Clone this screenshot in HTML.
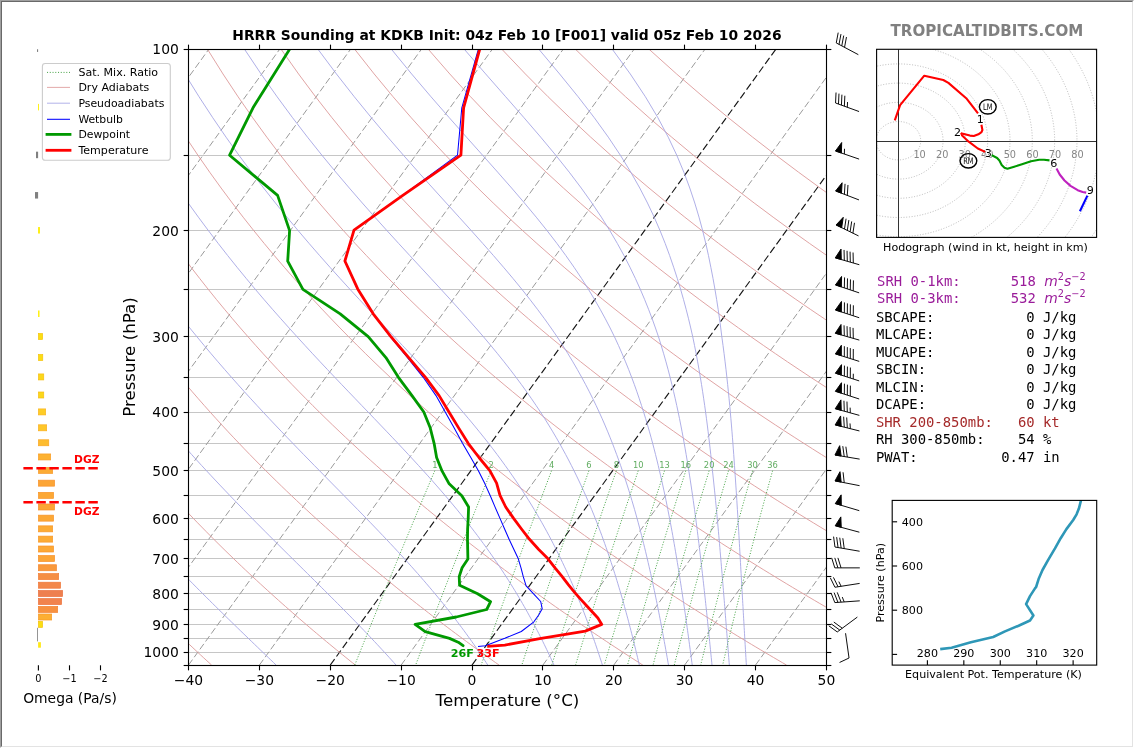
<!DOCTYPE html>
<html><head><meta charset="utf-8"><title>HRRR Sounding at KDKB</title>
<style>
html,body{margin:0;padding:0;background:#fff;}
body{width:1134px;height:748px;overflow:hidden;position:relative;}
svg{position:absolute;left:0;top:0;display:block;will-change:transform;font-family:"DejaVu Sans","Liberation Sans",sans-serif;}
.mono{font-family:"DejaVu Sans Mono","Liberation Mono",monospace;}
#frame{position:absolute;left:0;top:0;width:1134px;height:748px;box-sizing:border-box;border-top:1px solid #a0a0a0;border-left:1px solid #a0a0a0;border-right:1px solid #fff;border-bottom:1px solid #fff;}
#frame2{position:absolute;left:1px;top:1px;width:1132px;height:746px;box-sizing:border-box;border-top:1px solid #696969;border-left:1px solid #696969;border-right:1px solid #e3e3e3;border-bottom:1px solid #e3e3e3;}
</style></head><body>
<svg width="1134" height="748" viewBox="0 0 1134 748">
<clipPath id="cm"><rect x="188.50" y="49.00" width="637.90" height="616.10"/></clipPath>
<g clip-path="url(#cm)">
<line x1="188.50" y1="49.50" x2="826.40" y2="49.50" stroke="#c6c6c6" stroke-width="1.0" />
<line x1="188.50" y1="155.50" x2="826.40" y2="155.50" stroke="#c6c6c6" stroke-width="1.0" />
<line x1="188.50" y1="230.50" x2="826.40" y2="230.50" stroke="#c6c6c6" stroke-width="1.0" />
<line x1="188.50" y1="289.50" x2="826.40" y2="289.50" stroke="#c6c6c6" stroke-width="1.0" />
<line x1="188.50" y1="336.50" x2="826.40" y2="336.50" stroke="#c6c6c6" stroke-width="1.0" />
<line x1="188.50" y1="377.50" x2="826.40" y2="377.50" stroke="#c6c6c6" stroke-width="1.0" />
<line x1="188.50" y1="412.50" x2="826.40" y2="412.50" stroke="#c6c6c6" stroke-width="1.0" />
<line x1="188.50" y1="443.50" x2="826.40" y2="443.50" stroke="#c6c6c6" stroke-width="1.0" />
<line x1="188.50" y1="470.50" x2="826.40" y2="470.50" stroke="#c6c6c6" stroke-width="1.0" />
<line x1="188.50" y1="495.50" x2="826.40" y2="495.50" stroke="#c6c6c6" stroke-width="1.0" />
<line x1="188.50" y1="518.50" x2="826.40" y2="518.50" stroke="#c6c6c6" stroke-width="1.0" />
<line x1="188.50" y1="539.50" x2="826.40" y2="539.50" stroke="#c6c6c6" stroke-width="1.0" />
<line x1="188.50" y1="558.50" x2="826.40" y2="558.50" stroke="#c6c6c6" stroke-width="1.0" />
<line x1="188.50" y1="576.50" x2="826.40" y2="576.50" stroke="#c6c6c6" stroke-width="1.0" />
<line x1="188.50" y1="593.50" x2="826.40" y2="593.50" stroke="#c6c6c6" stroke-width="1.0" />
<line x1="188.50" y1="609.50" x2="826.40" y2="609.50" stroke="#c6c6c6" stroke-width="1.0" />
<line x1="188.50" y1="624.50" x2="826.40" y2="624.50" stroke="#c6c6c6" stroke-width="1.0" />
<line x1="188.50" y1="638.50" x2="826.40" y2="638.50" stroke="#c6c6c6" stroke-width="1.0" />
<line x1="188.50" y1="652.50" x2="826.40" y2="652.50" stroke="#c6c6c6" stroke-width="1.0" />
<line x1="-591.16" y1="665.10" x2="-145.41" y2="49.00" stroke="#9a9a9a" stroke-width="1.0" stroke-dasharray="6.8 2.9"/>
<line x1="-520.28" y1="665.10" x2="-74.53" y2="49.00" stroke="#9a9a9a" stroke-width="1.0" stroke-dasharray="6.8 2.9"/>
<line x1="-449.40" y1="665.10" x2="-3.65" y2="49.00" stroke="#9a9a9a" stroke-width="1.0" stroke-dasharray="6.8 2.9"/>
<line x1="-378.52" y1="665.10" x2="67.23" y2="49.00" stroke="#9a9a9a" stroke-width="1.0" stroke-dasharray="6.8 2.9"/>
<line x1="-307.64" y1="665.10" x2="138.10" y2="49.00" stroke="#9a9a9a" stroke-width="1.0" stroke-dasharray="6.8 2.9"/>
<line x1="-236.77" y1="665.10" x2="208.98" y2="49.00" stroke="#9a9a9a" stroke-width="1.0" stroke-dasharray="6.8 2.9"/>
<line x1="-165.89" y1="665.10" x2="279.86" y2="49.00" stroke="#9a9a9a" stroke-width="1.0" stroke-dasharray="6.8 2.9"/>
<line x1="-95.01" y1="665.10" x2="350.74" y2="49.00" stroke="#9a9a9a" stroke-width="1.0" stroke-dasharray="6.8 2.9"/>
<line x1="-24.13" y1="665.10" x2="421.62" y2="49.00" stroke="#9a9a9a" stroke-width="1.0" stroke-dasharray="6.8 2.9"/>
<line x1="46.74" y1="665.10" x2="492.49" y2="49.00" stroke="#9a9a9a" stroke-width="1.0" stroke-dasharray="6.8 2.9"/>
<line x1="117.62" y1="665.10" x2="563.37" y2="49.00" stroke="#9a9a9a" stroke-width="1.0" stroke-dasharray="6.8 2.9"/>
<line x1="188.50" y1="665.10" x2="634.25" y2="49.00" stroke="#9a9a9a" stroke-width="1.0" stroke-dasharray="6.8 2.9"/>
<line x1="259.38" y1="665.10" x2="705.13" y2="49.00" stroke="#9a9a9a" stroke-width="1.0" stroke-dasharray="6.8 2.9"/>
<line x1="330.26" y1="665.10" x2="776.00" y2="49.00" stroke="#161616" stroke-width="1.15" stroke-dasharray="7.4 3.2"/>
<line x1="401.13" y1="665.10" x2="846.88" y2="49.00" stroke="#9a9a9a" stroke-width="1.0" stroke-dasharray="6.8 2.9"/>
<line x1="472.01" y1="665.10" x2="917.76" y2="49.00" stroke="#161616" stroke-width="1.15" stroke-dasharray="7.4 3.2"/>
<line x1="542.89" y1="665.10" x2="988.64" y2="49.00" stroke="#9a9a9a" stroke-width="1.0" stroke-dasharray="6.8 2.9"/>
<line x1="613.77" y1="665.10" x2="1059.52" y2="49.00" stroke="#9a9a9a" stroke-width="1.0" stroke-dasharray="6.8 2.9"/>
<line x1="684.64" y1="665.10" x2="1130.39" y2="49.00" stroke="#9a9a9a" stroke-width="1.0" stroke-dasharray="6.8 2.9"/>
<line x1="755.52" y1="665.10" x2="1201.27" y2="49.00" stroke="#9a9a9a" stroke-width="1.0" stroke-dasharray="6.8 2.9"/>
<line x1="826.40" y1="665.10" x2="1272.15" y2="49.00" stroke="#9a9a9a" stroke-width="1.0" stroke-dasharray="6.8 2.9"/>
<polyline points="-160.55,49.00 -155.01,73.97 -149.40,96.77 -143.74,117.74 -138.07,137.16 -132.42,155.24 -126.79,172.15 -121.21,188.03 -115.67,203.01 -110.19,217.18 -104.76,230.62 -99.38,243.40 -94.07,255.59 -88.82,267.24 -83.63,278.39 -78.50,289.08 -73.42,299.36 -68.41,309.25 -63.46,318.78 -58.56,327.97 -53.71,336.85 -48.93,345.45 -44.19,353.77 -39.51,361.83 -34.88,369.65 -30.30,377.25 -25.77,384.63 -21.29,391.81 -16.85,398.79 -12.46,405.60 -8.11,412.23 -3.81,418.70 0.45,425.02 4.67,431.18 8.85,437.21 12.98,443.09 17.08,448.85 21.14,454.49 25.17,460.00 29.16,465.41 33.11,470.70 37.03,475.89 40.91,480.98 44.76,485.97 48.58,490.86 52.37,495.67 56.12,500.39 59.85,505.03 63.54,509.59 67.21,514.07 70.84,518.47 74.45,522.80 78.03,527.06 81.59,531.26 85.11,535.38 88.61,539.44 92.09,543.44 95.54,547.38 98.96,551.27 102.37,555.09 105.74,558.86 109.10,562.58 112.43,566.24 115.74,569.86 119.02,573.42 122.29,576.94 125.53,580.41 128.75,583.83 131.96,587.22 135.14,590.55 138.30,593.85 141.44,597.10 144.56,600.32 147.66,603.49 150.75,606.63 153.81,609.73 156.86,612.80 159.89,615.83 162.90,618.82 165.90,621.78 168.87,624.71 171.83,627.61 174.78,630.47 177.70,633.30 180.61,636.10 183.51,638.88 186.39,641.62 189.25,644.34 192.10,647.02 194.93,649.68 197.75,652.32 200.55,654.92 203.34,657.50 206.12,660.06 208.88,662.59 211.62,665.10" fill="none" stroke="#dc9a9a" stroke-width="0.9" />
<polyline points="-86.97,49.00 -79.41,73.97 -71.90,96.77 -64.45,117.74 -57.10,137.16 -49.84,155.24 -42.68,172.15 -35.63,188.03 -28.69,203.01 -21.85,217.18 -15.12,230.62 -8.50,243.40 -1.97,255.59 4.45,267.24 10.78,278.39 17.02,289.08 23.16,299.36 29.22,309.25 35.19,318.78 41.08,327.97 46.89,336.85 52.62,345.45 58.28,353.77 63.86,361.83 69.38,369.65 74.82,377.25 80.20,384.63 85.51,391.81 90.76,398.79 95.95,405.60 101.08,412.23 106.16,418.70 111.17,425.02 116.14,431.18 121.05,437.21 125.90,443.09 130.71,448.85 135.47,454.49 140.18,460.00 144.85,465.41 149.47,470.70 154.05,475.89 158.58,480.98 163.07,485.97 167.52,490.86 171.93,495.67 176.30,500.39 180.63,505.03 184.93,509.59 189.18,514.07 193.41,518.47 197.59,522.80 201.74,527.06 205.86,531.26 209.95,535.38 214.00,539.44 218.02,543.44 222.01,547.38 225.98,551.27 229.91,555.09 233.81,558.86 237.68,562.58 241.52,566.24 245.34,569.86 249.13,573.42 252.89,576.94 256.63,580.41 260.34,583.83 264.03,587.22 267.69,590.55 271.33,593.85 274.94,597.10 278.53,600.32 282.09,603.49 285.64,606.63 289.16,609.73 292.66,612.80 296.13,615.83 299.59,618.82 303.02,621.78 306.44,624.71 309.83,627.61 313.20,630.47 316.56,633.30 319.89,636.10 323.21,638.88 326.50,641.62 329.78,644.34 333.04,647.02 336.28,649.68 339.50,652.32 342.71,654.92 345.90,657.50 349.07,660.06 352.22,662.59 355.36,665.10" fill="none" stroke="#dc9a9a" stroke-width="0.9" />
<polyline points="-13.39,49.00 -3.81,73.97 5.60,96.77 14.83,117.74 23.88,137.16 32.75,155.24 41.44,172.15 49.95,188.03 58.30,203.01 66.48,217.18 74.51,230.62 82.39,243.40 90.13,255.59 97.73,267.24 105.19,278.39 112.53,289.08 119.75,299.36 126.85,309.25 133.84,318.78 140.72,327.97 147.50,336.85 154.17,345.45 160.75,353.77 167.24,361.83 173.63,369.65 179.94,377.25 186.17,384.63 192.31,391.81 198.37,398.79 204.36,405.60 210.28,412.23 216.12,418.70 221.90,425.02 227.60,431.18 233.25,437.21 238.83,443.09 244.34,448.85 249.80,454.49 255.20,460.00 260.54,465.41 265.83,470.70 271.06,475.89 276.25,480.98 281.38,485.97 286.46,490.86 291.49,495.67 296.48,500.39 301.42,505.03 306.31,509.59 311.16,514.07 315.97,518.47 320.73,522.80 325.46,527.06 330.14,531.26 334.78,535.38 339.39,539.44 343.96,543.44 348.49,547.38 352.99,551.27 357.45,555.09 361.87,558.86 366.26,562.58 370.62,566.24 374.94,569.86 379.24,573.42 383.50,576.94 387.73,580.41 391.93,583.83 396.10,587.22 400.24,590.55 404.35,593.85 408.44,597.10 412.49,600.32 416.52,603.49 420.53,606.63 424.50,609.73 428.45,612.80 432.38,615.83 436.28,618.82 440.15,621.78 444.00,624.71 447.83,627.61 451.63,630.47 455.41,633.30 459.17,636.10 462.91,638.88 466.62,641.62 470.31,644.34 473.98,647.02 477.63,649.68 481.26,652.32 484.87,654.92 488.46,657.50 492.02,660.06 495.57,662.59 499.10,665.10" fill="none" stroke="#dc9a9a" stroke-width="0.9" />
<polyline points="60.18,49.00 71.79,73.97 83.10,96.77 94.12,117.74 104.86,137.16 115.33,155.24 125.55,172.15 135.53,188.03 145.28,203.01 154.82,217.18 164.15,230.62 173.28,243.40 182.23,255.59 191.00,267.24 199.61,278.39 208.05,289.08 216.34,299.36 224.49,309.25 232.49,318.78 240.36,327.97 248.10,336.85 255.72,345.45 263.22,353.77 270.61,361.83 277.89,369.65 285.06,377.25 292.13,384.63 299.11,391.81 305.99,398.79 312.78,405.60 319.47,412.23 326.09,418.70 332.62,425.02 339.07,431.18 345.45,437.21 351.75,443.09 357.97,448.85 364.13,454.49 370.22,460.00 376.24,465.41 382.19,470.70 388.08,475.89 393.91,480.98 399.69,485.97 405.40,490.86 411.05,495.67 416.65,500.39 422.20,505.03 427.70,509.59 433.14,514.07 438.53,518.47 443.87,522.80 449.17,527.06 454.42,531.26 459.62,535.38 464.78,539.44 469.89,543.44 474.97,547.38 480.00,551.27 484.98,555.09 489.93,558.86 494.84,562.58 499.71,566.24 504.55,569.86 509.34,573.42 514.10,576.94 518.83,580.41 523.52,583.83 528.17,587.22 532.79,590.55 537.38,593.85 541.94,597.10 546.46,600.32 550.95,603.49 555.41,606.63 559.85,609.73 564.25,612.80 568.62,615.83 572.96,618.82 577.28,621.78 581.57,624.71 585.83,627.61 590.06,630.47 594.27,633.30 598.45,636.10 602.61,638.88 606.74,641.62 610.84,644.34 614.92,647.02 618.98,649.68 623.02,652.32 627.03,654.92 631.01,657.50 634.98,660.06 638.92,662.59 642.84,665.10" fill="none" stroke="#dc9a9a" stroke-width="0.9" />
<polyline points="133.76,49.00 147.39,73.97 160.60,96.77 173.40,117.74 185.83,137.16 197.91,155.24 209.67,172.15 221.11,188.03 232.27,203.01 243.15,217.18 253.78,230.62 264.17,243.40 274.33,255.59 284.28,267.24 294.02,278.39 303.56,289.08 312.93,299.36 322.12,309.25 331.14,318.78 340.00,327.97 348.71,336.85 357.27,345.45 365.70,353.77 373.99,361.83 382.15,369.65 390.18,377.25 398.10,384.63 405.91,391.81 413.60,398.79 421.19,405.60 428.67,412.23 436.06,418.70 443.35,425.02 450.54,431.18 457.65,437.21 464.67,443.09 471.60,448.85 478.46,454.49 485.23,460.00 491.93,465.41 498.55,470.70 505.10,475.89 511.58,480.98 517.99,485.97 524.34,490.86 530.62,495.67 536.83,500.39 542.99,505.03 549.08,509.59 555.12,514.07 561.09,518.47 567.01,522.80 572.88,527.06 578.70,531.26 584.46,535.38 590.17,539.44 595.83,543.44 601.44,547.38 607.01,551.27 612.52,555.09 618.00,558.86 623.42,562.58 628.81,566.24 634.15,569.86 639.45,573.42 644.71,576.94 649.92,580.41 655.10,583.83 660.24,587.22 665.34,590.55 670.41,593.85 675.43,597.10 680.43,600.32 685.38,603.49 690.30,606.63 695.19,609.73 700.04,612.80 704.86,615.83 709.65,618.82 714.41,621.78 719.13,624.71 723.83,627.61 728.49,630.47 733.13,633.30 737.73,636.10 742.31,638.88 746.85,641.62 751.37,644.34 755.87,647.02 760.33,649.68 764.77,652.32 769.18,654.92 773.57,657.50 777.93,660.06 782.27,662.59 786.58,665.10" fill="none" stroke="#dc9a9a" stroke-width="0.9" />
<polyline points="207.34,49.00 222.99,73.97 238.09,96.77 252.69,117.74 266.81,137.16 280.50,155.24 293.78,172.15 306.69,188.03 319.25,203.01 331.48,217.18 343.41,230.62 355.06,243.40 366.43,255.59 377.55,267.24 388.43,278.39 399.08,289.08 409.52,299.36 419.75,309.25 429.79,318.78 439.64,327.97 449.32,336.85 458.82,345.45 468.17,353.77 477.36,361.83 486.40,369.65 495.31,377.25 504.07,384.63 512.70,391.81 521.21,398.79 529.60,405.60 537.87,412.23 546.02,418.70 554.07,425.02 562.01,431.18 569.85,437.21 577.59,443.09 585.23,448.85 592.79,454.49 600.25,460.00 607.62,465.41 614.91,470.70 622.12,475.89 629.25,480.98 636.30,485.97 643.28,490.86 650.18,495.67 657.01,500.39 663.77,505.03 670.46,509.59 677.09,514.07 683.66,518.47 690.16,522.80 696.59,527.06 702.97,531.26 709.29,535.38 715.56,539.44 721.76,543.44 727.92,547.38 734.02,551.27 740.06,555.09 746.06,558.86 752.01,562.58 757.90,566.24 763.75,569.86 769.55,573.42 775.31,576.94 781.02,580.41 786.69,583.83 792.31,587.22 797.89,590.55 803.43,593.85 808.93,597.10 814.39,600.32 819.81,603.49 825.19,606.63 830.53,609.73 835.84,612.80 841.11,615.83 846.34,618.82 851.54,621.78 856.70,624.71 861.83,627.61 866.92,630.47 871.98,633.30 877.01,636.10 882.01,638.88 886.97,641.62 891.91,644.34 896.81,647.02 901.68,649.68 906.53,652.32 911.34,654.92 916.13,657.50 920.89,660.06 925.62,662.59 930.32,665.10" fill="none" stroke="#dc9a9a" stroke-width="0.9" />
<polyline points="280.91,49.00 298.59,73.97 315.59,96.77 331.97,117.74 347.79,137.16 363.08,155.24 377.90,172.15 392.27,188.03 406.23,203.01 419.82,217.18 433.05,230.62 445.95,243.40 458.53,255.59 470.82,267.24 482.84,278.39 494.60,289.08 506.11,299.36 517.38,309.25 528.44,318.78 539.28,327.97 549.92,336.85 560.37,345.45 570.64,353.77 580.73,361.83 590.66,369.65 600.43,377.25 610.04,384.63 619.50,391.81 628.82,398.79 638.01,405.60 647.06,412.23 655.99,418.70 664.79,425.02 673.48,431.18 682.05,437.21 690.51,443.09 698.86,448.85 707.11,454.49 715.26,460.00 723.32,465.41 731.27,470.70 739.14,475.89 746.92,480.98 754.61,485.97 762.22,490.86 769.74,495.67 777.19,500.39 784.56,505.03 791.85,509.59 799.07,514.07 806.22,518.47 813.30,522.80 820.31,527.06 827.25,531.26 834.13,535.38 840.94,539.44 847.70,543.44 854.39,547.38 861.03,551.27 867.60,555.09 874.12,558.86 880.59,562.58 887.00,566.24 893.35,569.86 899.66,573.42 905.92,576.94 912.12,580.41 918.28,583.83 924.38,587.22 930.45,590.55 936.46,593.85 942.43,597.10 948.36,600.32 954.24,603.49 960.08,606.63 965.88,609.73 971.63,612.80 977.35,615.83 983.03,618.82 988.66,621.78 994.26,624.71 999.82,627.61 1005.35,630.47 1010.84,633.30 1016.29,636.10 1021.71,638.88 1027.09,641.62 1032.44,644.34 1037.75,647.02 1043.03,649.68 1048.28,652.32 1053.50,654.92 1058.69,657.50 1063.84,660.06 1068.96,662.59 1074.06,665.10" fill="none" stroke="#dc9a9a" stroke-width="0.9" />
<polyline points="354.49,49.00 374.19,73.97 393.09,96.77 411.26,117.74 428.76,137.16 445.66,155.24 462.01,172.15 477.85,188.03 493.22,203.01 508.15,217.18 522.68,230.62 536.83,243.40 550.63,255.59 564.10,267.24 577.25,278.39 590.11,289.08 602.69,299.36 615.01,309.25 627.08,318.78 638.92,327.97 650.53,336.85 661.92,345.45 673.11,353.77 684.11,361.83 694.92,369.65 705.55,377.25 716.01,384.63 726.30,391.81 736.44,398.79 746.42,405.60 756.26,412.23 765.96,418.70 775.52,425.02 784.95,431.18 794.25,437.21 803.43,443.09 812.49,448.85 821.44,454.49 830.28,460.00 839.01,465.41 847.63,470.70 856.16,475.89 864.59,480.98 872.92,485.97 881.16,490.86 889.30,495.67 897.37,500.39 905.34,505.03 913.23,509.59 921.05,514.07 928.78,518.47 936.44,522.80 944.02,527.06 951.53,531.26 958.97,535.38 966.33,539.44 973.63,543.44 980.87,547.38 988.04,551.27 995.14,555.09 1002.19,558.86 1009.17,562.58 1016.09,566.24 1022.96,569.86 1029.77,573.42 1036.52,576.94 1043.22,580.41 1049.86,583.83 1056.46,587.22 1063.00,590.55 1069.49,593.85 1075.93,597.10 1082.32,600.32 1088.67,603.49 1094.97,606.63 1101.22,609.73 1107.43,612.80 1113.59,615.83 1119.71,618.82 1125.79,621.78 1131.83,624.71 1137.82,627.61 1143.78,630.47 1149.69,633.30 1155.57,636.10 1161.41,638.88 1167.21,641.62 1172.97,644.34 1178.69,647.02 1184.38,649.68 1190.04,652.32 1195.66,654.92 1201.24,657.50 1206.79,660.06 1212.31,662.59 1217.80,665.10" fill="none" stroke="#dc9a9a" stroke-width="0.9" />
<polyline points="428.07,49.00 449.80,73.97 470.59,96.77 490.54,117.74 509.74,137.16 528.25,155.24 546.13,172.15 563.43,188.03 580.20,203.01 596.49,217.18 612.32,230.62 627.72,243.40 642.73,255.59 657.37,267.24 671.66,278.39 685.63,289.08 699.28,299.36 712.65,309.25 725.73,318.78 738.56,327.97 751.13,336.85 763.47,345.45 775.59,353.77 787.48,361.83 799.18,369.65 810.67,377.25 821.97,384.63 833.10,391.81 844.05,398.79 854.83,405.60 865.45,412.23 875.92,418.70 886.24,425.02 896.42,431.18 906.45,437.21 916.35,443.09 926.12,448.85 935.77,454.49 945.30,460.00 954.70,465.41 964.00,470.70 973.18,475.89 982.25,480.98 991.23,485.97 1000.10,490.86 1008.87,495.67 1017.54,500.39 1026.13,505.03 1034.62,509.59 1043.02,514.07 1051.34,518.47 1059.58,522.80 1067.73,527.06 1075.81,531.26 1083.80,535.38 1091.72,539.44 1099.57,543.44 1107.34,547.38 1115.05,551.27 1122.68,555.09 1130.25,558.86 1137.75,562.58 1145.19,566.24 1152.56,569.86 1159.87,573.42 1167.12,576.94 1174.32,580.41 1181.45,583.83 1188.53,587.22 1195.55,590.55 1202.52,593.85 1209.43,597.10 1216.29,600.32 1223.10,603.49 1229.86,606.63 1236.56,609.73 1243.22,612.80 1249.84,615.83 1256.40,618.82 1262.92,621.78 1269.39,624.71 1275.82,627.61 1282.21,630.47 1288.55,633.30 1294.85,636.10 1301.11,638.88 1307.32,641.62 1313.50,644.34 1319.64,647.02 1325.73,649.68 1331.79,652.32 1337.82,654.92 1343.80,657.50 1349.75,660.06 1355.66,662.59 1361.54,665.10" fill="none" stroke="#dc9a9a" stroke-width="0.9" />
<polyline points="501.64,49.00 525.40,73.97 548.09,96.77 569.83,117.74 590.71,137.16 610.83,155.24 630.24,172.15 649.01,188.03 667.19,203.01 684.82,217.18 701.95,230.62 718.61,243.40 734.83,255.59 750.64,267.24 766.07,278.39 781.14,289.08 795.87,299.36 810.28,309.25 824.38,318.78 838.20,327.97 851.74,336.85 865.02,345.45 878.06,353.77 890.86,361.83 903.43,369.65 915.79,377.25 927.94,384.63 939.90,391.81 951.66,398.79 963.24,405.60 974.65,412.23 985.89,418.70 996.96,425.02 1007.88,431.18 1018.65,437.21 1029.27,443.09 1039.75,448.85 1050.10,454.49 1060.31,460.00 1070.40,465.41 1080.36,470.70 1090.20,475.89 1099.92,480.98 1109.53,485.97 1119.03,490.86 1128.43,495.67 1137.72,500.39 1146.91,505.03 1156.00,509.59 1165.00,514.07 1173.91,518.47 1182.72,522.80 1191.44,527.06 1200.08,531.26 1208.64,535.38 1217.11,539.44 1225.50,543.44 1233.82,547.38 1242.06,551.27 1250.22,555.09 1258.31,558.86 1266.33,562.58 1274.28,566.24 1282.16,569.86 1289.98,573.42 1297.73,576.94 1305.41,580.41 1313.04,583.83 1320.60,587.22 1328.10,590.55 1335.54,593.85 1342.93,597.10 1350.25,600.32 1357.53,603.49 1364.74,606.63 1371.91,609.73 1379.02,612.80 1386.08,615.83 1393.09,618.82 1400.05,621.78 1406.96,624.71 1413.82,627.61 1420.64,630.47 1427.40,633.30 1434.13,636.10 1440.81,638.88 1447.44,641.62 1454.03,644.34 1460.58,647.02 1467.08,649.68 1473.55,652.32 1479.97,654.92 1486.36,657.50 1492.70,660.06 1499.01,662.59 1505.27,665.10" fill="none" stroke="#dc9a9a" stroke-width="0.9" />
<polyline points="575.22,49.00 601.00,73.97 625.58,96.77 649.11,117.74 671.69,137.16 693.41,155.24 714.36,172.15 734.59,188.03 754.17,203.01 773.16,217.18 791.58,230.62 809.50,243.40 826.93,255.59 843.92,267.24 860.49,278.39 876.66,289.08 892.46,299.36 907.91,309.25 923.03,318.78 937.84,327.97 952.35,336.85 966.57,345.45 980.53,353.77 994.23,361.83 1007.69,369.65 1020.91,377.25 1033.91,384.63 1046.70,391.81 1059.27,398.79 1071.66,405.60 1083.85,412.23 1095.86,418.70 1107.69,425.02 1119.35,431.18 1130.85,437.21 1142.19,443.09 1153.38,448.85 1164.43,454.49 1175.33,460.00 1186.09,465.41 1196.72,470.70 1207.22,475.89 1217.59,480.98 1227.84,485.97 1237.97,490.86 1247.99,495.67 1257.90,500.39 1267.70,505.03 1277.39,509.59 1286.98,514.07 1296.47,518.47 1305.86,522.80 1315.16,527.06 1324.36,531.26 1333.47,535.38 1342.50,539.44 1351.44,543.44 1360.29,547.38 1369.07,551.27 1377.76,555.09 1386.37,558.86 1394.91,562.58 1403.38,566.24 1411.77,569.86 1420.08,573.42 1428.33,576.94 1436.51,580.41 1444.62,583.83 1452.67,587.22 1460.65,590.55 1468.57,593.85 1476.43,597.10 1484.22,600.32 1491.96,603.49 1499.63,606.63 1507.25,609.73 1514.82,612.80 1522.32,615.83 1529.78,618.82 1537.18,621.78 1544.52,624.71 1551.82,627.61 1559.06,630.47 1566.26,633.30 1573.41,636.10 1580.51,638.88 1587.56,641.62 1594.56,644.34 1601.52,647.02 1608.43,649.68 1615.30,652.32 1622.13,654.92 1628.91,657.50 1635.66,660.06 1642.35,662.59 1649.01,665.10" fill="none" stroke="#dc9a9a" stroke-width="0.9" />
<polyline points="648.80,49.00 676.60,73.97 703.08,96.77 728.40,117.74 752.67,137.16 775.99,155.24 798.47,172.15 820.17,188.03 841.16,203.01 861.49,217.18 881.22,230.62 900.39,243.40 919.03,255.59 937.19,267.24 954.90,278.39 972.17,289.08 989.05,299.36 1005.54,309.25 1021.68,318.78 1037.48,327.97 1052.95,336.85 1068.12,345.45 1083.00,353.77 1097.61,361.83 1111.95,369.65 1126.03,377.25 1139.88,384.63 1153.49,391.81 1166.89,398.79 1180.07,405.60 1193.04,412.23 1205.82,418.70 1218.41,425.02 1230.82,431.18 1243.05,437.21 1255.12,443.09 1267.01,448.85 1278.76,454.49 1290.34,460.00 1301.78,465.41 1313.08,470.70 1324.24,475.89 1335.26,480.98 1346.15,485.97 1356.91,490.86 1367.56,495.67 1378.08,500.39 1388.48,505.03 1398.77,509.59 1408.96,514.07 1419.03,518.47 1429.00,522.80 1438.87,527.06 1448.64,531.26 1458.31,535.38 1467.89,539.44 1477.37,543.44 1486.77,547.38 1496.08,551.27 1505.30,555.09 1514.44,558.86 1523.49,562.58 1532.47,566.24 1541.37,569.86 1550.19,573.42 1558.94,576.94 1567.61,580.41 1576.21,583.83 1584.74,587.22 1593.20,590.55 1601.60,593.85 1609.92,597.10 1618.19,600.32 1626.39,603.49 1634.52,606.63 1642.60,609.73 1650.61,612.80 1658.57,615.83 1666.46,618.82 1674.30,621.78 1682.09,624.71 1689.82,627.61 1697.49,630.47 1705.12,633.30 1712.69,636.10 1720.21,638.88 1727.67,641.62 1735.09,644.34 1742.46,647.02 1749.79,649.68 1757.06,652.32 1764.29,654.92 1771.47,657.50 1778.61,660.06 1785.70,662.59 1792.75,665.10" fill="none" stroke="#dc9a9a" stroke-width="0.9" />
<polyline points="-124.99,49.00 -118.43,73.97 -111.84,96.77 -105.27,117.74 -98.74,137.16 -92.27,155.24 -85.86,172.15 -79.53,188.03 -73.27,203.01 -67.09,217.18 -60.99,230.62 -54.97,243.40 -49.04,255.59 -43.18,267.24 -37.41,278.39 -31.70,289.08 -26.08,299.36 -20.53,309.25 -15.05,318.78 -9.64,327.97 -4.30,336.85 0.98,345.45 6.19,353.77 11.34,361.83 16.42,369.65 21.45,377.25 26.42,384.63 31.33,391.81 36.19,398.79 40.99,405.60 45.74,412.23 50.44,418.70 55.09,425.02 59.69,431.18 64.25,437.21 68.75,443.09 73.22,448.85 77.63,454.49 82.01,460.00 86.34,465.41 90.63,470.70 94.88,475.89 99.09,480.98 103.26,485.97 107.39,490.86 111.48,495.67 115.54,500.39 119.56,505.03 123.54,509.59 127.49,514.07 131.40,518.47 135.28,522.80 139.12,527.06 142.94,531.26 146.71,535.38 150.46,539.44 154.17,543.44 157.85,547.38 161.50,551.27 165.12,555.09 168.71,558.86 172.26,562.58 175.79,566.24 179.28,569.86 182.75,573.42 186.19,576.94 189.59,580.41 192.97,583.83 196.32,587.22 199.64,590.55 202.93,593.85 206.19,597.10 209.42,600.32 212.62,603.49 215.80,606.63 218.95,609.73 222.07,612.80 225.16,615.83 228.22,618.82 231.26,621.78 234.27,624.71 237.25,627.61 240.20,630.47 243.13,633.30 246.03,636.10 248.90,638.88 251.75,641.62 254.57,644.34 257.36,647.02 260.12,649.68 262.86,652.32 265.58,654.92 268.26,657.50 270.92,660.06 273.55,662.59 276.16,665.10" fill="none" stroke="#a6a6e4" stroke-width="0.9" />
<polyline points="-51.32,49.00 -42.73,73.97 -34.25,96.77 -25.89,117.74 -17.66,137.16 -9.58,155.24 -1.64,172.15 6.16,188.03 13.83,203.01 21.36,217.18 28.76,230.62 36.03,243.40 43.18,255.59 50.21,267.24 57.12,278.39 63.93,289.08 70.63,299.36 77.22,309.25 83.72,318.78 90.12,327.97 96.42,336.85 102.63,345.45 108.75,353.77 114.79,361.83 120.75,369.65 126.62,377.25 132.42,384.63 138.15,391.81 143.80,398.79 149.38,405.60 154.89,412.23 160.33,418.70 165.70,425.02 171.01,431.18 176.26,437.21 181.44,443.09 186.56,448.85 191.62,454.49 196.62,460.00 201.56,465.41 206.45,470.70 211.27,475.89 216.04,480.98 220.75,485.97 225.41,490.86 230.01,495.67 234.56,500.39 239.05,505.03 243.49,509.59 247.88,514.07 252.21,518.47 256.48,522.80 260.71,527.06 264.88,531.26 269.00,535.38 273.07,539.44 277.08,543.44 281.04,547.38 284.95,551.27 288.81,555.09 292.62,558.86 296.38,562.58 300.08,566.24 303.74,569.86 307.34,573.42 310.90,576.94 314.40,580.41 317.86,583.83 321.26,587.22 324.62,590.55 327.93,593.85 331.19,597.10 334.40,600.32 337.56,603.49 340.68,606.63 343.75,609.73 346.77,612.80 349.75,615.83 352.68,618.82 355.57,621.78 358.41,624.71 361.20,627.61 363.96,630.47 366.67,633.30 369.34,636.10 371.97,638.88 374.55,641.62 377.10,644.34 379.60,647.02 382.07,649.68 384.50,652.32 386.88,654.92 389.24,657.50 391.55,660.06 393.83,662.59 396.07,665.10" fill="none" stroke="#a6a6e4" stroke-width="0.9" />
<polyline points="22.36,49.00 32.97,73.97 43.35,96.77 53.50,117.74 63.42,137.16 73.11,155.24 82.58,172.15 91.85,188.03 100.92,203.01 109.80,217.18 118.50,230.62 127.02,243.40 135.38,255.59 143.58,267.24 151.63,278.39 159.53,289.08 167.29,299.36 174.92,309.25 182.41,318.78 189.78,327.97 197.03,336.85 204.14,345.45 211.14,353.77 218.02,361.83 224.80,369.65 231.46,377.25 238.03,384.63 244.48,391.81 250.84,398.79 257.10,405.60 263.25,412.23 269.31,418.70 275.27,425.02 281.13,431.18 286.90,437.21 292.57,443.09 298.14,448.85 303.62,454.49 309.00,460.00 314.29,465.41 319.49,470.70 324.59,475.89 329.60,480.98 334.52,485.97 339.35,490.86 344.08,495.67 348.72,500.39 353.27,505.03 357.73,509.59 362.10,514.07 366.38,518.47 370.58,522.80 374.68,527.06 378.70,531.26 382.63,535.38 386.48,539.44 390.25,543.44 393.94,547.38 397.54,551.27 401.07,555.09 404.52,558.86 407.89,562.58 411.19,566.24 414.42,569.86 417.57,573.42 420.65,576.94 423.67,580.41 426.62,583.83 429.50,587.22 432.32,590.55 435.08,593.85 437.77,597.10 440.41,600.32 442.99,603.49 445.51,606.63 447.98,609.73 450.39,612.80 452.75,615.83 455.06,618.82 457.32,621.78 459.54,624.71 461.70,627.61 463.83,630.47 465.90,633.30 467.94,636.10 469.93,638.88 471.88,641.62 473.80,644.34 475.67,647.02 477.51,649.68 479.31,652.32 481.08,654.92 482.81,657.50 484.51,660.06 486.17,662.59 487.81,665.10" fill="none" stroke="#a6a6e4" stroke-width="0.9" />
<polyline points="96.23,49.00 108.87,73.97 121.15,96.77 133.09,117.74 144.70,137.16 155.99,155.24 167.00,172.15 177.73,188.03 188.20,203.01 198.42,217.18 208.40,230.62 218.16,243.40 227.70,255.59 237.04,267.24 246.18,278.39 255.12,289.08 263.88,299.36 272.46,309.25 280.86,318.78 289.08,327.97 297.14,336.85 304.99,345.45 312.67,353.77 320.19,361.83 327.55,369.65 334.74,377.25 341.76,384.63 348.62,391.81 355.32,398.79 361.86,405.60 368.23,412.23 374.44,418.70 380.49,425.02 386.38,431.18 392.11,437.21 397.68,443.09 403.10,448.85 408.37,454.49 413.48,460.00 418.44,465.41 423.26,470.70 427.94,475.89 432.48,480.98 436.88,485.97 441.15,490.86 445.29,495.67 449.30,500.39 453.19,505.03 456.97,509.59 460.62,514.07 464.17,518.47 467.60,522.80 470.93,527.06 474.16,531.26 477.30,535.38 480.34,539.44 483.29,543.44 486.15,547.38 488.93,551.27 491.63,555.09 494.25,558.86 496.80,562.58 499.28,566.24 501.68,569.86 504.02,573.42 506.30,576.94 508.52,580.41 510.67,583.83 512.77,587.22 514.82,590.55 516.81,593.85 518.75,597.10 520.64,600.32 522.48,603.49 524.28,606.63 526.03,609.73 527.75,612.80 529.42,615.83 531.05,618.82 532.65,621.78 534.20,624.71 535.73,627.61 537.22,630.47 538.67,633.30 540.10,636.10 541.49,638.88 542.86,641.62 544.19,644.34 545.50,647.02 546.78,649.68 548.04,652.32 549.27,654.92 550.47,657.50 551.66,660.06 552.82,662.59 553.96,665.10" fill="none" stroke="#a6a6e4" stroke-width="0.9" />
<polyline points="170.21,49.00 184.87,73.97 199.05,96.77 212.77,117.74 226.06,137.16 238.95,155.24 251.46,172.15 263.63,188.03 275.45,203.01 286.96,217.18 298.15,230.62 309.05,243.40 319.65,255.59 329.97,267.24 340.00,278.39 349.76,289.08 359.24,299.36 368.45,309.25 377.38,318.78 386.03,327.97 394.41,336.85 402.47,345.45 410.25,353.77 417.77,361.83 425.02,369.65 432.00,377.25 438.72,384.63 445.18,391.81 451.39,398.79 457.35,405.60 463.07,412.23 468.57,418.70 473.83,425.02 478.89,431.18 483.73,437.21 488.37,443.09 492.83,448.85 497.10,454.49 501.19,460.00 505.12,465.41 508.89,470.70 512.52,475.89 516.00,480.98 519.35,485.97 522.56,490.86 525.66,495.67 528.63,500.39 531.50,505.03 534.26,509.59 536.91,514.07 539.48,518.47 541.95,522.80 544.33,527.06 546.64,531.26 548.86,535.38 551.02,539.44 553.10,543.44 555.11,547.38 557.06,551.27 558.95,555.09 560.78,558.86 562.57,562.58 564.29,566.24 565.97,569.86 567.60,573.42 569.18,576.94 570.72,580.41 572.22,583.83 573.68,587.22 575.10,590.55 576.48,593.85 577.83,597.10 579.14,600.32 580.42,603.49 581.67,606.63 582.89,609.73 584.08,612.80 585.24,615.83 586.37,618.82 587.48,621.78 588.57,624.71 589.63,627.61 590.67,630.47 591.69,633.30 592.68,636.10 593.66,638.88 594.61,641.62 595.55,644.34 596.47,647.02 597.37,649.68 598.25,652.32 599.11,654.92 599.96,657.50 600.80,660.06 601.62,662.59 602.42,665.10" fill="none" stroke="#a6a6e4" stroke-width="0.9" />
<polyline points="244.37,49.00 261.06,73.97 277.11,96.77 292.58,117.74 307.51,137.16 321.93,155.24 335.86,172.15 349.32,188.03 362.32,203.01 374.86,217.18 386.96,230.62 398.62,243.40 409.83,255.59 420.59,267.24 430.90,278.39 440.77,289.08 450.19,299.36 459.17,309.25 467.71,318.78 475.83,327.97 483.53,336.85 490.76,345.45 497.61,353.77 504.08,361.83 510.21,369.65 516.00,377.25 521.48,384.63 526.66,391.81 531.56,398.79 536.20,405.60 540.59,412.23 544.75,418.70 548.70,425.02 552.44,431.18 556.00,437.21 559.37,443.09 562.59,448.85 565.65,454.49 568.57,460.00 571.35,465.41 574.01,470.70 576.56,475.89 579.00,480.98 581.34,485.97 583.58,490.86 585.73,495.67 587.79,500.39 589.78,505.03 591.68,509.59 593.52,514.07 595.29,518.47 596.99,522.80 598.63,527.06 600.22,531.26 601.75,535.38 603.24,539.44 604.67,543.44 606.06,547.38 607.40,551.27 608.71,555.09 609.97,558.86 611.20,562.58 612.40,566.24 613.57,569.86 614.70,573.42 615.80,576.94 616.87,580.41 617.92,583.83 618.93,587.22 619.92,590.55 620.89,593.85 621.83,597.10 622.75,600.32 623.65,603.49 624.53,606.63 625.39,609.73 626.22,612.80 627.04,615.83 627.85,618.82 628.63,621.78 629.40,624.71 630.15,627.61 630.89,630.47 631.62,633.30 632.33,636.10 633.02,638.88 633.71,641.62 634.38,644.34 635.03,647.02 635.68,649.68 636.31,652.32 636.94,654.92 637.55,657.50 638.15,660.06 638.75,662.59 639.33,665.10" fill="none" stroke="#a6a6e4" stroke-width="0.9" />
<polyline points="317.80,49.00 336.45,73.97 354.30,96.77 371.41,117.74 387.79,137.16 403.46,155.24 418.43,172.15 432.71,188.03 446.27,203.01 459.14,217.18 471.29,230.62 482.73,243.40 493.47,255.59 503.53,267.24 512.93,278.39 521.69,289.08 529.85,299.36 537.44,309.25 544.50,318.78 551.06,327.97 557.16,336.85 562.78,345.45 568.00,353.77 572.87,361.83 577.42,369.65 581.67,377.25 585.64,384.63 589.37,391.81 592.86,398.79 596.15,405.60 599.24,412.23 602.16,418.70 604.91,425.02 607.51,431.18 609.98,437.21 612.32,443.09 614.53,448.85 616.64,454.49 618.65,460.00 620.57,465.41 622.39,470.70 624.15,475.89 625.83,480.98 627.44,485.97 628.99,490.86 630.47,495.67 631.89,500.39 633.26,505.03 634.58,509.59 635.85,514.07 637.07,518.47 638.25,522.80 639.39,527.06 640.49,531.26 641.56,535.38 642.59,539.44 643.59,543.44 644.56,547.38 645.50,551.27 646.41,555.09 647.30,558.86 648.17,562.58 649.01,566.24 649.84,569.86 650.64,573.42 651.42,576.94 652.18,580.41 652.92,583.83 653.64,587.22 654.35,590.55 655.04,593.85 655.71,597.10 656.37,600.32 657.02,603.49 657.65,606.63 658.27,609.73 658.87,612.80 659.47,615.83 660.05,618.82 660.62,621.78 661.18,624.71 661.72,627.61 662.26,630.47 662.79,633.30 663.31,636.10 663.82,638.88 664.32,641.62 664.81,644.34 665.30,647.02 665.78,649.68 666.25,652.32 666.71,654.92 667.16,657.50 667.61,660.06 668.05,662.59 668.49,665.10" fill="none" stroke="#a6a6e4" stroke-width="0.9" />
<polyline points="391.22,49.00 411.65,73.97 431.01,96.77 449.30,117.74 466.51,137.16 482.64,155.24 497.67,172.15 511.61,188.03 524.46,203.01 536.25,217.18 547.05,230.62 556.90,243.40 565.87,255.59 574.05,267.24 581.50,278.39 588.28,289.08 594.48,299.36 600.15,309.25 605.34,318.78 610.11,327.97 614.50,336.85 618.47,345.45 622.14,353.77 625.54,361.83 628.69,369.65 631.62,377.25 634.36,384.63 636.92,391.81 639.31,398.79 641.56,405.60 643.67,412.23 645.66,418.70 647.54,425.02 649.31,431.18 650.99,437.21 652.58,443.09 654.09,448.85 655.53,454.49 656.90,460.00 658.21,465.41 659.45,470.70 660.66,475.89 661.82,480.98 662.93,485.97 663.99,490.86 665.01,495.67 666.00,500.39 666.94,505.03 667.85,509.59 668.73,514.07 669.58,518.47 670.41,522.80 671.20,527.06 671.97,531.26 672.72,535.38 673.44,539.44 674.14,543.44 674.82,547.38 675.48,551.27 676.12,555.09 676.75,558.86 677.37,562.58 677.97,566.24 678.56,569.86 679.13,573.42 679.69,576.94 680.23,580.41 680.76,583.83 681.28,587.22 681.79,590.55 682.29,593.85 682.78,597.10 683.26,600.32 683.73,603.49 684.19,606.63 684.64,609.73 685.08,612.80 685.51,615.83 685.94,618.82 686.36,621.78 686.77,624.71 687.17,627.61 687.57,630.47 687.96,633.30 688.34,636.10 688.72,638.88 689.10,641.62 689.46,644.34 689.82,647.02 690.18,649.68 690.53,652.32 690.88,654.92 691.22,657.50 691.56,660.06 691.89,662.59 692.22,665.10" fill="none" stroke="#a6a6e4" stroke-width="0.9" />
<polyline points="464.09,49.00 485.70,73.97 505.70,96.77 524.04,117.74 540.71,137.16 555.76,155.24 569.23,172.15 581.24,188.03 591.91,203.01 601.39,217.18 609.82,230.62 617.31,243.40 624.00,255.59 629.98,267.24 635.35,278.39 640.19,289.08 644.57,299.36 648.54,309.25 652.16,318.78 655.46,327.97 658.50,336.85 661.19,345.45 663.68,353.77 665.98,361.83 668.11,369.65 670.08,377.25 671.92,384.63 673.64,391.81 675.25,398.79 676.76,405.60 678.18,412.23 679.52,418.70 680.78,425.02 681.97,431.18 683.10,437.21 684.17,443.09 685.18,448.85 686.15,454.49 687.07,460.00 687.95,465.41 688.79,470.70 689.62,475.89 690.40,480.98 691.16,485.97 691.89,490.86 692.59,495.67 693.26,500.39 693.91,505.03 694.54,509.59 695.14,514.07 695.73,518.47 696.29,522.80 696.84,527.06 697.38,531.26 697.89,535.38 698.39,539.44 698.88,543.44 699.36,547.38 699.82,551.27 700.27,555.09 700.71,558.86 701.14,562.58 701.57,566.24 701.99,569.86 702.40,573.42 702.79,576.94 703.18,580.41 703.57,583.83 703.94,587.22 704.31,590.55 704.67,593.85 705.02,597.10 705.36,600.32 705.70,603.49 706.04,606.63 706.37,609.73 706.69,612.80 707.01,615.83 707.32,618.82 707.63,621.78 707.93,624.71 708.23,627.61 708.52,630.47 708.81,633.30 709.10,636.10 709.38,638.88 709.66,641.62 709.93,644.34 710.20,647.02 710.47,649.68 710.73,652.32 710.99,654.92 711.25,657.50 711.51,660.06 711.76,662.59 712.01,665.10" fill="none" stroke="#a6a6e4" stroke-width="0.9" />
<polyline points="538.67,49.00 559.62,73.97 578.14,96.77 594.32,117.74 608.32,137.16 620.38,155.24 630.79,172.15 639.76,188.03 647.49,203.01 654.20,217.18 660.04,230.62 665.16,243.40 669.67,255.59 673.65,267.24 677.28,278.39 680.54,289.08 683.48,299.36 686.13,309.25 688.54,318.78 690.74,327.97 692.75,336.85 694.52,345.45 696.16,353.77 697.66,361.83 699.05,369.65 700.34,377.25 701.54,384.63 702.66,391.81 703.71,398.79 704.69,405.60 705.61,412.23 706.47,418.70 707.29,425.02 708.06,431.18 708.79,437.21 709.48,443.09 710.14,448.85 710.76,454.49 711.35,460.00 711.92,465.41 712.46,470.70 713.03,475.89 713.57,480.98 714.09,485.97 714.60,490.86 715.08,495.67 715.55,500.39 716.00,505.03 716.44,509.59 716.86,514.07 717.27,518.47 717.67,522.80 718.05,527.06 718.43,531.26 718.79,535.38 719.15,539.44 719.49,543.44 719.83,547.38 720.16,551.27 720.48,555.09 720.80,558.86 721.11,562.58 721.42,566.24 721.73,569.86 722.02,573.42 722.32,576.94 722.60,580.41 722.88,583.83 723.16,587.22 723.43,590.55 723.70,593.85 723.96,597.10 724.22,600.32 724.47,603.49 724.72,606.63 724.97,609.73 725.21,612.80 725.45,615.83 725.69,618.82 725.92,621.78 726.16,624.71 726.38,627.61 726.61,630.47 726.83,633.30 727.05,636.10 727.27,638.88 727.49,641.62 727.70,644.34 727.91,647.02 728.12,649.68 728.33,652.32 728.53,654.92 728.73,657.50 728.93,660.06 729.13,662.59 729.33,665.10" fill="none" stroke="#a6a6e4" stroke-width="0.9" />
<polyline points="612.11,49.00 630.29,73.97 645.41,96.77 657.91,117.74 668.23,137.16 676.78,155.24 683.85,172.15 689.78,188.03 694.78,203.01 699.02,217.18 702.65,230.62 705.78,243.40 708.49,255.59 710.84,267.24 713.00,278.39 714.92,289.08 716.62,299.36 718.15,309.25 719.51,318.78 720.74,327.97 721.84,336.85 723.02,345.45 724.10,353.77 725.10,361.83 726.02,369.65 726.87,377.25 727.66,384.63 728.40,391.81 729.09,398.79 729.73,405.60 730.34,412.23 730.90,418.70 731.44,425.02 731.95,431.18 732.43,437.21 732.88,443.09 733.31,448.85 733.72,454.49 734.12,460.00 734.49,465.41 734.85,470.70 735.21,475.89 735.56,480.98 735.89,485.97 736.22,490.86 736.53,495.67 736.83,500.39 737.12,505.03 737.40,509.59 737.67,514.07 737.94,518.47 738.20,522.80 738.45,527.06 738.69,531.26 738.93,535.38 739.16,539.44 739.39,543.44 739.61,547.38 739.83,551.27 740.05,555.09 740.25,558.86 740.47,562.58 740.68,566.24 740.89,569.86 741.09,573.42 741.29,576.94 741.49,580.41 741.68,583.83 741.87,587.22 742.06,590.55 742.25,593.85 742.43,597.10 742.62,600.32 742.79,603.49 742.97,606.63 743.15,609.73 743.32,612.80 743.49,615.83 743.66,618.82 743.83,621.78 744.00,624.71 744.16,627.61 744.33,630.47 744.49,633.30 744.65,636.10 744.81,638.88 744.97,641.62 745.13,644.34 745.29,647.02 745.44,649.68 745.60,652.32 745.75,654.92 745.90,657.50 746.06,660.06 746.21,662.59 746.36,665.10" fill="none" stroke="#a6a6e4" stroke-width="0.9" />
<polyline points="434.80,470.70 432.60,475.89 430.45,480.98 428.35,485.97 426.28,490.86 424.26,495.67 422.27,500.39 420.33,505.03 418.42,509.59 416.54,514.07 414.70,518.47 412.89,522.80 411.11,527.06 409.36,531.26 407.65,535.38 405.96,539.44 404.30,543.44 402.66,547.38 401.06,551.27 399.47,555.09 397.91,558.86 396.38,562.58 394.87,566.24 393.38,569.86 391.91,573.42 390.47,576.94 389.04,580.41 387.64,583.83 386.25,587.22 384.89,590.55 383.54,593.85 382.21,597.10 380.90,600.32 379.60,603.49 378.32,606.63 377.06,609.73 375.81,612.80 374.58,615.83 373.37,618.82 372.17,621.78 370.98,624.71 369.81,627.61 368.65,630.47 367.51,633.30 366.38,636.10 365.26,638.88 364.15,641.62 363.06,644.34 361.98,647.02 360.91,649.68 359.85,652.32 358.81,654.92 357.77,657.50 356.75,660.06 355.74,662.59 354.73,665.10" fill="none" stroke="#4aa54a" stroke-width="1.0" stroke-dasharray="1.05 1.7"/>
<polyline points="491.12,470.70 489.04,475.89 487.00,480.98 485.01,485.97 483.05,490.86 481.13,495.67 479.26,500.39 477.41,505.03 475.61,509.59 473.83,514.07 472.09,518.47 470.38,522.80 468.70,527.06 467.05,531.26 465.43,535.38 463.84,539.44 462.27,543.44 460.72,547.38 459.21,551.27 457.71,555.09 456.24,558.86 454.80,562.58 453.37,566.24 451.97,569.86 450.58,573.42 449.22,576.94 447.88,580.41 446.55,583.83 445.25,587.22 443.96,590.55 442.69,593.85 441.44,597.10 440.21,600.32 438.99,603.49 437.79,606.63 436.60,609.73 435.43,612.80 434.27,615.83 433.13,618.82 432.00,621.78 430.88,624.71 429.78,627.61 428.70,630.47 427.62,633.30 426.56,636.10 425.51,638.88 424.47,641.62 423.44,644.34 422.43,647.02 421.43,649.68 420.43,652.32 419.45,654.92 418.48,657.50 417.52,660.06 416.57,662.59 415.63,665.10" fill="none" stroke="#4aa54a" stroke-width="1.0" stroke-dasharray="1.05 1.7"/>
<polyline points="551.54,470.70 549.59,475.89 547.68,480.98 545.81,485.97 543.98,490.86 542.18,495.67 540.42,500.39 538.70,505.03 537.01,509.59 535.35,514.07 533.72,518.47 532.12,522.80 530.55,527.06 529.00,531.26 527.49,535.38 526.00,539.44 524.53,543.44 523.09,547.38 521.67,551.27 520.28,555.09 518.91,558.86 517.56,562.58 516.23,566.24 514.92,569.86 513.63,573.42 512.36,576.94 511.11,580.41 509.88,583.83 508.66,587.22 507.46,590.55 506.28,593.85 505.12,597.10 503.97,600.32 502.83,603.49 501.72,606.63 500.61,609.73 499.52,612.80 498.45,615.83 497.39,618.82 496.34,621.78 495.30,624.71 494.28,627.61 493.27,630.47 492.27,633.30 491.29,636.10 490.32,638.88 489.35,641.62 488.40,644.34 487.46,647.02 486.53,649.68 485.61,652.32 484.70,654.92 483.80,657.50 482.92,660.06 482.04,662.59 481.17,665.10" fill="none" stroke="#4aa54a" stroke-width="1.0" stroke-dasharray="1.05 1.7"/>
<polyline points="588.92,470.70 587.05,475.89 585.22,480.98 583.43,485.97 581.68,490.86 579.96,495.67 578.27,500.39 576.62,505.03 575.00,509.59 573.42,514.07 571.86,518.47 570.33,522.80 568.83,527.06 567.35,531.26 565.90,535.38 564.48,539.44 563.08,543.44 561.71,547.38 560.35,551.27 559.02,555.09 557.71,558.86 556.43,562.58 555.16,566.24 553.91,569.86 552.68,573.42 551.47,576.94 550.28,580.41 549.10,583.83 547.95,587.22 546.80,590.55 545.68,593.85 544.57,597.10 543.48,600.32 542.40,603.49 541.33,606.63 540.28,609.73 539.24,612.80 538.22,615.83 537.21,618.82 536.22,621.78 535.23,624.71 534.26,627.61 533.30,630.47 532.35,633.30 531.42,636.10 530.49,638.88 529.58,641.62 528.67,644.34 527.78,647.02 526.90,649.68 526.02,652.32 525.16,654.92 524.31,657.50 523.46,660.06 522.63,662.59 521.81,665.10" fill="none" stroke="#4aa54a" stroke-width="1.0" stroke-dasharray="1.05 1.7"/>
<polyline points="616.39,470.70 614.58,475.89 612.81,480.98 611.08,485.97 609.38,490.86 607.72,495.67 606.09,500.39 604.50,505.03 602.93,509.59 601.40,514.07 599.90,518.47 598.42,522.80 596.97,527.06 595.55,531.26 594.15,535.38 592.78,539.44 591.43,543.44 590.10,547.38 588.79,551.27 587.51,555.09 586.25,558.86 585.01,562.58 583.79,566.24 582.58,569.86 581.40,573.42 580.23,576.94 579.08,580.41 577.95,583.83 576.84,587.22 575.74,590.55 574.66,593.85 573.59,597.10 572.54,600.32 571.50,603.49 570.47,606.63 569.46,609.73 568.47,612.80 567.48,615.83 566.51,618.82 565.55,621.78 564.61,624.71 563.67,627.61 562.75,630.47 561.84,633.30 560.94,636.10 560.05,638.88 559.17,641.62 558.31,644.34 557.45,647.02 556.60,649.68 555.76,652.32 554.94,654.92 554.12,657.50 553.31,660.06 552.51,662.59 551.72,665.10" fill="none" stroke="#4aa54a" stroke-width="1.0" stroke-dasharray="1.05 1.7"/>
<polyline points="638.24,470.70 636.48,475.89 634.76,480.98 633.07,485.97 631.42,490.86 629.81,495.67 628.23,500.39 626.68,505.03 625.16,509.59 623.67,514.07 622.21,518.47 620.77,522.80 619.37,527.06 617.99,531.26 616.63,535.38 615.30,539.44 613.99,543.44 612.70,547.38 611.43,551.27 610.19,555.09 608.97,558.86 607.76,562.58 606.58,566.24 605.41,569.86 604.26,573.42 603.13,576.94 602.02,580.41 600.92,583.83 599.84,587.22 598.78,590.55 597.73,593.85 596.69,597.10 595.67,600.32 594.67,603.49 593.68,606.63 592.70,609.73 591.74,612.80 590.78,615.83 589.84,618.82 588.92,621.78 588.00,624.71 587.10,627.61 586.21,630.47 585.33,633.30 584.46,636.10 583.60,638.88 582.75,641.62 581.91,644.34 581.08,647.02 580.26,649.68 579.45,652.32 578.65,654.92 577.86,657.50 577.08,660.06 576.31,662.59 575.54,665.10" fill="none" stroke="#4aa54a" stroke-width="1.0" stroke-dasharray="1.05 1.7"/>
<polyline points="664.54,470.70 662.84,475.89 661.18,480.98 659.55,485.97 657.96,490.86 656.41,495.67 654.88,500.39 653.39,505.03 651.92,509.59 650.48,514.07 649.08,518.47 647.69,522.80 646.34,527.06 645.01,531.26 643.70,535.38 642.42,539.44 641.16,543.44 639.92,547.38 638.70,551.27 637.50,555.09 636.32,558.86 635.17,562.58 634.03,566.24 632.90,569.86 631.80,573.42 630.71,576.94 629.64,580.41 628.59,583.83 627.55,587.22 626.53,590.55 625.52,593.85 624.53,597.10 623.55,600.32 622.59,603.49 621.63,606.63 620.70,609.73 619.77,612.80 618.86,615.83 617.96,618.82 617.07,621.78 616.19,624.71 615.32,627.61 614.47,630.47 613.63,633.30 612.79,636.10 611.97,638.88 611.16,641.62 610.35,644.34 609.56,647.02 608.77,649.68 608.00,652.32 607.23,654.92 606.48,657.50 605.73,660.06 604.99,662.59 604.26,665.10" fill="none" stroke="#4aa54a" stroke-width="1.0" stroke-dasharray="1.05 1.7"/>
<polyline points="685.82,470.70 684.17,475.89 682.56,480.98 680.98,485.97 679.44,490.86 677.93,495.67 676.45,500.39 675.00,505.03 673.58,509.59 672.19,514.07 670.82,518.47 669.48,522.80 668.17,527.06 666.88,531.26 665.61,535.38 664.37,539.44 663.15,543.44 661.95,547.38 660.77,551.27 659.61,555.09 658.47,558.86 657.35,562.58 656.25,566.24 655.16,569.86 654.10,573.42 653.05,576.94 652.01,580.41 650.99,583.83 649.99,587.22 649.00,590.55 648.03,593.85 647.07,597.10 646.12,600.32 645.19,603.49 644.27,606.63 643.37,609.73 642.47,612.80 641.59,615.83 640.72,618.82 639.87,621.78 639.02,624.71 638.18,627.61 637.36,630.47 636.54,633.30 635.74,636.10 634.95,638.88 634.16,641.62 633.39,644.34 632.62,647.02 631.87,649.68 631.12,652.32 630.39,654.92 629.66,657.50 628.94,660.06 628.22,662.59 627.52,665.10" fill="none" stroke="#4aa54a" stroke-width="1.0" stroke-dasharray="1.05 1.7"/>
<polyline points="709.14,470.70 707.55,475.89 705.99,480.98 704.46,485.97 702.97,490.86 701.51,495.67 700.08,500.39 698.68,505.03 697.31,509.59 695.97,514.07 694.65,518.47 693.36,522.80 692.09,527.06 690.85,531.26 689.63,535.38 688.43,539.44 687.25,543.44 686.10,547.38 684.96,551.27 683.85,555.09 682.75,558.86 681.67,562.58 680.61,566.24 679.56,569.86 678.54,573.42 677.53,576.94 676.53,580.41 675.55,583.83 674.59,587.22 673.64,590.55 672.70,593.85 671.78,597.10 670.87,600.32 669.98,603.49 669.10,606.63 668.23,609.73 667.37,612.80 666.52,615.83 665.69,618.82 664.86,621.78 664.05,624.71 663.25,627.61 662.46,630.47 661.68,633.30 660.91,636.10 660.15,638.88 659.40,641.62 658.66,644.34 657.92,647.02 657.20,649.68 656.48,652.32 655.78,654.92 655.08,657.50 654.39,660.06 653.71,662.59 653.04,665.10" fill="none" stroke="#4aa54a" stroke-width="1.0" stroke-dasharray="1.05 1.7"/>
<polyline points="728.52,470.70 726.97,475.89 725.46,480.98 723.98,485.97 722.53,490.86 721.12,495.67 719.73,500.39 718.37,505.03 717.04,509.59 715.74,514.07 714.46,518.47 713.21,522.80 711.98,527.06 710.78,531.26 709.60,535.38 708.44,539.44 707.30,543.44 706.18,547.38 705.08,551.27 704.00,555.09 702.94,558.86 701.89,562.58 700.87,566.24 699.86,569.86 698.87,573.42 697.89,576.94 696.93,580.41 695.98,583.83 695.05,587.22 694.13,590.55 693.23,593.85 692.34,597.10 691.46,600.32 690.60,603.49 689.74,606.63 688.91,609.73 688.08,612.80 687.26,615.83 686.46,618.82 685.66,621.78 684.88,624.71 684.11,627.61 683.34,630.47 682.59,633.30 681.85,636.10 681.12,638.88 680.39,641.62 679.68,644.34 678.97,647.02 678.28,649.68 677.59,652.32 676.91,654.92 676.24,657.50 675.57,660.06 674.92,662.59 674.27,665.10" fill="none" stroke="#4aa54a" stroke-width="1.0" stroke-dasharray="1.05 1.7"/>
<polyline points="752.62,470.70 751.13,475.89 749.68,480.98 748.25,485.97 746.86,490.86 745.50,495.67 744.17,500.39 742.86,505.03 741.59,509.59 740.34,514.07 739.11,518.47 737.91,522.80 736.73,527.06 735.57,531.26 734.44,535.38 733.33,539.44 732.24,543.44 731.16,547.38 730.11,551.27 729.07,555.09 728.06,558.86 727.06,562.58 726.08,566.24 725.11,569.86 724.16,573.42 723.23,576.94 722.31,580.41 721.40,583.83 720.51,587.22 719.63,590.55 718.77,593.85 717.92,597.10 717.08,600.32 716.26,603.49 715.44,606.63 714.64,609.73 713.85,612.80 713.07,615.83 712.31,618.82 711.55,621.78 710.80,624.71 710.06,627.61 709.34,630.47 708.62,633.30 707.91,636.10 707.22,638.88 706.53,641.62 705.85,644.34 705.18,647.02 704.51,649.68 703.86,652.32 703.21,654.92 702.57,657.50 701.94,660.06 701.32,662.59 700.70,665.10" fill="none" stroke="#4aa54a" stroke-width="1.0" stroke-dasharray="1.05 1.7"/>
<polyline points="772.60,470.70 771.16,475.89 769.75,480.98 768.38,485.97 767.03,490.86 765.72,495.67 764.43,500.39 763.17,505.03 761.94,509.59 760.73,514.07 759.55,518.47 758.39,522.80 757.25,527.06 756.13,531.26 755.04,535.38 753.97,539.44 752.91,543.44 751.88,547.38 750.87,551.27 749.87,555.09 748.89,558.86 747.93,562.58 746.98,566.24 746.05,569.86 745.14,573.42 744.24,576.94 743.36,580.41 742.48,583.83 741.63,587.22 740.79,590.55 739.96,593.85 739.14,597.10 738.33,600.32 737.54,603.49 736.76,606.63 735.99,609.73 735.23,612.80 734.49,615.83 733.75,618.82 733.02,621.78 732.31,624.71 731.60,627.61 730.91,630.47 730.22,633.30 729.54,636.10 728.87,638.88 728.21,641.62 727.56,644.34 726.92,647.02 726.28,649.68 725.66,652.32 725.04,654.92 724.43,657.50 723.82,660.06 723.23,662.59 722.64,665.10" fill="none" stroke="#4aa54a" stroke-width="1.0" stroke-dasharray="1.05 1.7"/>
<polyline points="478.30,49.30 461.80,107.80 457.50,155.20 401.80,195.90 353.80,230.20 344.70,261.00 357.40,288.90 372.80,313.80 390.00,336.30 407.30,357.40 423.20,377.30 436.00,395.60 445.50,412.40 454.20,427.90 462.50,443.30 470.80,457.50 478.40,470.70 484.80,483.60 490.60,496.50 495.20,507.40 500.00,518.40 504.60,529.00 509.10,539.30 513.80,549.20 518.30,558.80 521.00,567.90 523.20,576.40 526.10,585.90 533.60,593.90 540.70,601.50 542.20,608.80 538.70,615.00 533.90,621.80 521.30,631.50 504.80,638.30 485.40,645.70 478.00,646.50" fill="none" stroke="#0000ff" stroke-width="1.05" stroke-linejoin="round"/>
<polyline points="289.60,49.30 253.00,107.80 229.60,155.20 277.60,195.40 289.60,230.60 287.70,261.20 302.90,289.30 340.20,313.80 368.20,336.60 385.90,357.60 398.40,377.30 412.00,395.60 423.80,412.00 430.20,427.80 434.10,443.30 436.60,457.50 442.00,470.90 448.90,483.40 461.80,495.70 468.60,507.00 468.20,518.50 467.60,529.40 467.50,539.50 467.70,549.60 467.90,558.90 462.10,567.80 459.20,576.60 459.60,585.30 477.60,593.80 490.60,601.70 486.70,609.50 456.30,617.00 415.10,624.40 425.20,631.60 449.50,638.40 458.20,642.20 463.10,645.70" fill="none" stroke="#009900" stroke-width="2.8" stroke-linejoin="round" stroke-linecap="round"/>
<polyline points="479.70,49.30 463.60,107.80 460.90,155.20 402.10,195.90 354.00,230.20 344.90,261.00 357.70,288.90 373.20,313.80 390.70,336.30 408.50,357.40 425.50,377.30 439.10,395.60 449.10,412.20 458.60,427.90 468.20,443.30 479.00,457.50 489.80,470.70 496.60,483.20 500.00,495.30 505.70,507.00 513.60,518.40 521.50,529.00 529.50,539.30 538.50,549.20 548.00,558.80 555.00,567.80 562.00,576.40 568.30,584.60 574.60,592.30 580.80,599.40 588.00,607.20 597.90,618.00 601.80,624.40 585.30,631.10 539.70,638.70 504.80,645.10 487.30,646.30" fill="none" stroke="#ff0000" stroke-width="2.8" stroke-linejoin="round"/>
</g>
<text x="462.40" y="656.60" font-size="11.11" text-anchor="middle" fill="#009900" font-weight="bold">26F</text>
<text x="488.00" y="656.60" font-size="11.11" text-anchor="middle" fill="#ff0000" font-weight="bold">33F</text>
<text x="434.80" y="468.10" font-size="8.33" text-anchor="middle" fill="#62ad62" >1</text>
<text x="491.12" y="468.10" font-size="8.33" text-anchor="middle" fill="#62ad62" >2</text>
<text x="551.54" y="468.10" font-size="8.33" text-anchor="middle" fill="#62ad62" >4</text>
<text x="588.92" y="468.10" font-size="8.33" text-anchor="middle" fill="#62ad62" >6</text>
<text x="616.39" y="468.10" font-size="8.33" text-anchor="middle" fill="#62ad62" >8</text>
<text x="638.24" y="468.10" font-size="8.33" text-anchor="middle" fill="#62ad62" >10</text>
<text x="664.54" y="468.10" font-size="8.33" text-anchor="middle" fill="#62ad62" >13</text>
<text x="685.82" y="468.10" font-size="8.33" text-anchor="middle" fill="#62ad62" >16</text>
<text x="709.14" y="468.10" font-size="8.33" text-anchor="middle" fill="#62ad62" >20</text>
<text x="728.52" y="468.10" font-size="8.33" text-anchor="middle" fill="#62ad62" >24</text>
<text x="752.62" y="468.10" font-size="8.33" text-anchor="middle" fill="#62ad62" >30</text>
<text x="772.60" y="468.10" font-size="8.33" text-anchor="middle" fill="#62ad62" >36</text>
<rect x="188.50" y="49.50" width="638.00" height="616.00" fill="none" stroke="#000" stroke-width="1.11"/>
<line x1="188.50" y1="665.50" x2="188.50" y2="670.36" stroke="#000" stroke-width="1.11" />
<line x1="188.50" y1="49.50" x2="188.50" y2="44.64" stroke="#000" stroke-width="1.11" />
<text x="188.50" y="685.10" font-size="13.89" text-anchor="middle" fill="#000" >−40</text>
<line x1="259.50" y1="665.50" x2="259.50" y2="670.36" stroke="#000" stroke-width="1.11" />
<line x1="259.50" y1="49.50" x2="259.50" y2="44.64" stroke="#000" stroke-width="1.11" />
<text x="259.38" y="685.10" font-size="13.89" text-anchor="middle" fill="#000" >−30</text>
<line x1="330.50" y1="665.50" x2="330.50" y2="670.36" stroke="#000" stroke-width="1.11" />
<line x1="330.50" y1="49.50" x2="330.50" y2="44.64" stroke="#000" stroke-width="1.11" />
<text x="330.26" y="685.10" font-size="13.89" text-anchor="middle" fill="#000" >−20</text>
<line x1="401.50" y1="665.50" x2="401.50" y2="670.36" stroke="#000" stroke-width="1.11" />
<line x1="401.50" y1="49.50" x2="401.50" y2="44.64" stroke="#000" stroke-width="1.11" />
<text x="401.13" y="685.10" font-size="13.89" text-anchor="middle" fill="#000" >−10</text>
<line x1="472.50" y1="665.50" x2="472.50" y2="670.36" stroke="#000" stroke-width="1.11" />
<line x1="472.50" y1="49.50" x2="472.50" y2="44.64" stroke="#000" stroke-width="1.11" />
<text x="472.01" y="685.10" font-size="13.89" text-anchor="middle" fill="#000" >0</text>
<line x1="542.50" y1="665.50" x2="542.50" y2="670.36" stroke="#000" stroke-width="1.11" />
<line x1="542.50" y1="49.50" x2="542.50" y2="44.64" stroke="#000" stroke-width="1.11" />
<text x="542.89" y="685.10" font-size="13.89" text-anchor="middle" fill="#000" >10</text>
<line x1="613.50" y1="665.50" x2="613.50" y2="670.36" stroke="#000" stroke-width="1.11" />
<line x1="613.50" y1="49.50" x2="613.50" y2="44.64" stroke="#000" stroke-width="1.11" />
<text x="613.77" y="685.10" font-size="13.89" text-anchor="middle" fill="#000" >20</text>
<line x1="684.50" y1="665.50" x2="684.50" y2="670.36" stroke="#000" stroke-width="1.11" />
<line x1="684.50" y1="49.50" x2="684.50" y2="44.64" stroke="#000" stroke-width="1.11" />
<text x="684.64" y="685.10" font-size="13.89" text-anchor="middle" fill="#000" >30</text>
<line x1="755.50" y1="665.50" x2="755.50" y2="670.36" stroke="#000" stroke-width="1.11" />
<line x1="755.50" y1="49.50" x2="755.50" y2="44.64" stroke="#000" stroke-width="1.11" />
<text x="755.52" y="685.10" font-size="13.89" text-anchor="middle" fill="#000" >40</text>
<line x1="826.50" y1="665.50" x2="826.50" y2="670.36" stroke="#000" stroke-width="1.11" />
<line x1="826.50" y1="49.50" x2="826.50" y2="44.64" stroke="#000" stroke-width="1.11" />
<text x="826.40" y="685.10" font-size="13.89" text-anchor="middle" fill="#000" >50</text>
<line x1="188.50" y1="49.50" x2="183.64" y2="49.50" stroke="#000" stroke-width="1.11" />
<line x1="826.50" y1="49.50" x2="831.36" y2="49.50" stroke="#000" stroke-width="1.11" />
<text x="178.80" y="54.10" font-size="13.89" text-anchor="end" fill="#000" >100</text>
<line x1="188.50" y1="155.50" x2="183.64" y2="155.50" stroke="#000" stroke-width="1.11" />
<line x1="826.50" y1="155.50" x2="831.36" y2="155.50" stroke="#000" stroke-width="1.11" />
<line x1="188.50" y1="230.50" x2="183.64" y2="230.50" stroke="#000" stroke-width="1.11" />
<line x1="826.50" y1="230.50" x2="831.36" y2="230.50" stroke="#000" stroke-width="1.11" />
<text x="178.80" y="235.72" font-size="13.89" text-anchor="end" fill="#000" >200</text>
<line x1="188.50" y1="289.50" x2="183.64" y2="289.50" stroke="#000" stroke-width="1.11" />
<line x1="826.50" y1="289.50" x2="831.36" y2="289.50" stroke="#000" stroke-width="1.11" />
<line x1="188.50" y1="336.50" x2="183.64" y2="336.50" stroke="#000" stroke-width="1.11" />
<line x1="826.50" y1="336.50" x2="831.36" y2="336.50" stroke="#000" stroke-width="1.11" />
<text x="178.80" y="341.95" font-size="13.89" text-anchor="end" fill="#000" >300</text>
<line x1="188.50" y1="377.50" x2="183.64" y2="377.50" stroke="#000" stroke-width="1.11" />
<line x1="826.50" y1="377.50" x2="831.36" y2="377.50" stroke="#000" stroke-width="1.11" />
<line x1="188.50" y1="412.50" x2="183.64" y2="412.50" stroke="#000" stroke-width="1.11" />
<line x1="826.50" y1="412.50" x2="831.36" y2="412.50" stroke="#000" stroke-width="1.11" />
<text x="178.80" y="417.33" font-size="13.89" text-anchor="end" fill="#000" >400</text>
<line x1="188.50" y1="443.50" x2="183.64" y2="443.50" stroke="#000" stroke-width="1.11" />
<line x1="826.50" y1="443.50" x2="831.36" y2="443.50" stroke="#000" stroke-width="1.11" />
<line x1="188.50" y1="470.50" x2="183.64" y2="470.50" stroke="#000" stroke-width="1.11" />
<line x1="826.50" y1="470.50" x2="831.36" y2="470.50" stroke="#000" stroke-width="1.11" />
<text x="178.80" y="475.80" font-size="13.89" text-anchor="end" fill="#000" >500</text>
<line x1="188.50" y1="495.50" x2="183.64" y2="495.50" stroke="#000" stroke-width="1.11" />
<line x1="826.50" y1="495.50" x2="831.36" y2="495.50" stroke="#000" stroke-width="1.11" />
<line x1="188.50" y1="518.50" x2="183.64" y2="518.50" stroke="#000" stroke-width="1.11" />
<line x1="826.50" y1="518.50" x2="831.36" y2="518.50" stroke="#000" stroke-width="1.11" />
<text x="178.80" y="523.57" font-size="13.89" text-anchor="end" fill="#000" >600</text>
<line x1="188.50" y1="539.50" x2="183.64" y2="539.50" stroke="#000" stroke-width="1.11" />
<line x1="826.50" y1="539.50" x2="831.36" y2="539.50" stroke="#000" stroke-width="1.11" />
<line x1="188.50" y1="558.50" x2="183.64" y2="558.50" stroke="#000" stroke-width="1.11" />
<line x1="826.50" y1="558.50" x2="831.36" y2="558.50" stroke="#000" stroke-width="1.11" />
<text x="178.80" y="563.96" font-size="13.89" text-anchor="end" fill="#000" >700</text>
<line x1="188.50" y1="576.50" x2="183.64" y2="576.50" stroke="#000" stroke-width="1.11" />
<line x1="826.50" y1="576.50" x2="831.36" y2="576.50" stroke="#000" stroke-width="1.11" />
<line x1="188.50" y1="593.50" x2="183.64" y2="593.50" stroke="#000" stroke-width="1.11" />
<line x1="826.50" y1="593.50" x2="831.36" y2="593.50" stroke="#000" stroke-width="1.11" />
<text x="178.80" y="598.95" font-size="13.89" text-anchor="end" fill="#000" >800</text>
<line x1="188.50" y1="609.50" x2="183.64" y2="609.50" stroke="#000" stroke-width="1.11" />
<line x1="826.50" y1="609.50" x2="831.36" y2="609.50" stroke="#000" stroke-width="1.11" />
<line x1="188.50" y1="624.50" x2="183.64" y2="624.50" stroke="#000" stroke-width="1.11" />
<line x1="826.50" y1="624.50" x2="831.36" y2="624.50" stroke="#000" stroke-width="1.11" />
<text x="178.80" y="629.81" font-size="13.89" text-anchor="end" fill="#000" >900</text>
<line x1="188.50" y1="638.50" x2="183.64" y2="638.50" stroke="#000" stroke-width="1.11" />
<line x1="826.50" y1="638.50" x2="831.36" y2="638.50" stroke="#000" stroke-width="1.11" />
<line x1="188.50" y1="652.50" x2="183.64" y2="652.50" stroke="#000" stroke-width="1.11" />
<line x1="826.50" y1="652.50" x2="831.36" y2="652.50" stroke="#000" stroke-width="1.11" />
<text x="178.80" y="657.42" font-size="13.89" text-anchor="end" fill="#000" >1000</text>
<line x1="188.50" y1="665.50" x2="183.64" y2="665.50" stroke="#000" stroke-width="1.11" />
<line x1="826.50" y1="665.50" x2="831.36" y2="665.50" stroke="#000" stroke-width="1.11" />
<text x="507.45" y="706.30" font-size="16.67" text-anchor="middle" fill="#000" >Temperature (°C)</text>
<text transform="translate(134.5,357.05) rotate(-90)" font-size="16.67" text-anchor="middle">Pressure (hPa)</text>
<text x="506.95" y="39.80" font-size="13.89" text-anchor="middle" fill="#000" font-weight="bold">HRRR Sounding at KDKB Init: 04z Feb 10 [F001] valid 05z Feb 10 2026</text>
<clipPath id="co"><rect x="20" y="49.3" width="90" height="616"/></clipPath><g clip-path="url(#co)">
<rect x="38.10" y="103.90" width="0.90" height="6.5" fill="#fff200"/>
<rect x="38.10" y="227.05" width="1.80" height="6.5" fill="#feee01"/>
<rect x="38.10" y="310.49" width="1.40" height="6.5" fill="#fff000"/>
<rect x="38.45" y="333.53" width="4.10" height="6.0" fill="#fadf12" stroke="#f6c40e" stroke-width="0.7"/>
<rect x="38.45" y="354.51" width="4.30" height="6.0" fill="#fade14" stroke="#f6c30f" stroke-width="0.7"/>
<rect x="38.45" y="373.93" width="5.30" height="6.0" fill="#fbd81a" stroke="#f7be14" stroke-width="0.7"/>
<rect x="38.45" y="392.00" width="5.30" height="6.0" fill="#fbd81a" stroke="#f7be14" stroke-width="0.7"/>
<rect x="38.45" y="408.91" width="7.20" height="6.0" fill="#fecd26" stroke="#fab41d" stroke-width="0.7"/>
<rect x="38.45" y="424.80" width="8.20" height="6.0" fill="#fec72a" stroke="#faaf21" stroke-width="0.7"/>
<rect x="38.45" y="439.77" width="10.30" height="6.0" fill="#fdbc2e" stroke="#faa624" stroke-width="0.7"/>
<rect x="38.45" y="453.94" width="12.20" height="6.0" fill="#fdb231" stroke="#f99d26" stroke-width="0.7"/>
<rect x="38.45" y="467.38" width="14.20" height="6.0" fill="#fcab34" stroke="#f89728" stroke-width="0.7"/>
<rect x="38.45" y="480.16" width="16.10" height="6.0" fill="#fca536" stroke="#f8912a" stroke-width="0.7"/>
<rect x="38.45" y="492.35" width="15.10" height="6.0" fill="#fca835" stroke="#f89429" stroke-width="0.7"/>
<rect x="38.45" y="504.00" width="16.10" height="6.0" fill="#fca536" stroke="#f8912a" stroke-width="0.7"/>
<rect x="38.45" y="515.15" width="15.10" height="6.0" fill="#fca835" stroke="#f89429" stroke-width="0.7"/>
<rect x="38.45" y="525.85" width="14.20" height="6.0" fill="#fcab34" stroke="#f89728" stroke-width="0.7"/>
<rect x="38.45" y="536.12" width="14.20" height="6.0" fill="#fcab34" stroke="#f89728" stroke-width="0.7"/>
<rect x="38.45" y="546.01" width="15.10" height="6.0" fill="#fca835" stroke="#f89429" stroke-width="0.7"/>
<rect x="38.45" y="555.54" width="16.10" height="6.0" fill="#fca536" stroke="#f8912a" stroke-width="0.7"/>
<rect x="38.45" y="564.74" width="18.00" height="6.0" fill="#f9993c" stroke="#f5872f" stroke-width="0.7"/>
<rect x="38.45" y="573.62" width="20.20" height="6.0" fill="#f58e44" stroke="#f27c35" stroke-width="0.7"/>
<rect x="38.45" y="582.21" width="22.10" height="6.0" fill="#f3874a" stroke="#ef7739" stroke-width="0.7"/>
<rect x="38.45" y="590.53" width="24.10" height="6.0" fill="#ee7f4f" stroke="#ea703e" stroke-width="0.7"/>
<rect x="38.45" y="598.59" width="23.10" height="6.0" fill="#f1834d" stroke="#ed733c" stroke-width="0.7"/>
<rect x="38.45" y="606.41" width="19.20" height="6.0" fill="#f79140" stroke="#f38032" stroke-width="0.7"/>
<rect x="38.45" y="614.01" width="13.20" height="6.0" fill="#fcaf33" stroke="#f89a27" stroke-width="0.7"/>
<rect x="38.45" y="621.39" width="4.10" height="6.0" fill="#fadf12" stroke="#f6c40e" stroke-width="0.7"/>
<rect x="38.10" y="642.2" width="2.8" height="5.5" fill="#ffe818"/>
<rect x="37.00" y="45.43" width="1.10" height="6.5" fill="#808080"/>
<rect x="36.00" y="151.67" width="2.10" height="6.5" fill="#808080"/>
<rect x="35.00" y="192.06" width="3.10" height="6.5" fill="#808080"/>
<rect x="37.0" y="627.8" width="0.9" height="13.6" fill="#8a8a8a"/>
</g>
<line x1="23.40" y1="468.30" x2="100.50" y2="468.30" stroke="#ff0000" stroke-width="2.45" stroke-dasharray="9.4 3.6"/>
<line x1="23.40" y1="502.30" x2="100.50" y2="502.30" stroke="#ff0000" stroke-width="2.45" stroke-dasharray="9.4 3.6"/>
<text x="86.80" y="462.60" font-size="10.7" text-anchor="middle" fill="#ff0000" font-weight="bold">DGZ</text>
<text x="86.80" y="515.20" font-size="10.7" text-anchor="middle" fill="#ff0000" font-weight="bold">DGZ</text>
<line x1="38.40" y1="665.30" x2="38.40" y2="670.40" stroke="#000" stroke-width="1.11" />
<text x="38.40" y="681.70" font-size="9.72" text-anchor="middle" fill="#000" >0</text>
<line x1="69.50" y1="665.30" x2="69.50" y2="670.40" stroke="#000" stroke-width="1.11" />
<text x="69.50" y="681.70" font-size="9.72" text-anchor="middle" fill="#000" >−1</text>
<line x1="100.50" y1="665.30" x2="100.50" y2="670.40" stroke="#000" stroke-width="1.11" />
<text x="100.50" y="681.70" font-size="9.72" text-anchor="middle" fill="#000" >−2</text>
<text x="70.00" y="702.50" font-size="13.89" text-anchor="middle" fill="#000" >Omega (Pa/s)</text>
<rect x="42.4" y="63.5" width="127.9" height="96.8" rx="2.8" ry="2.8" fill="#fff" fill-opacity="0.8" stroke="#cccccc" stroke-width="1.1"/>
<line x1="47.00" y1="72.40" x2="70.00" y2="72.40" stroke="#4aa54a" stroke-width="1.0" stroke-dasharray="1.05 1.7"/>
<text x="78.40" y="76.15" font-size="11.11" text-anchor="start" fill="#000" textLength="79.71" lengthAdjust="spacingAndGlyphs">Sat. Mix. Ratio</text>
<line x1="47.00" y1="87.40" x2="70.00" y2="87.40" stroke="#e0a0a0" stroke-width="0.9" />
<text x="78.40" y="91.15" font-size="11.11" text-anchor="start" fill="#000" textLength="70.87" lengthAdjust="spacingAndGlyphs">Dry Adiabats</text>
<line x1="47.00" y1="103.20" x2="70.00" y2="103.20" stroke="#a9a9e6" stroke-width="0.9" />
<text x="78.40" y="106.95" font-size="11.11" text-anchor="start" fill="#000" textLength="85.94" lengthAdjust="spacingAndGlyphs">Pseudoadiabats</text>
<line x1="47.00" y1="119.30" x2="70.00" y2="119.30" stroke="#0000ff" stroke-width="1.05" />
<text x="78.40" y="123.05" font-size="11.11" text-anchor="start" fill="#000" textLength="44.57" lengthAdjust="spacingAndGlyphs">Wetbulb</text>
<line x1="47.00" y1="134.40" x2="70.00" y2="134.40" stroke="#009900" stroke-width="2.8"  stroke-linecap="square"/>
<text x="78.40" y="138.15" font-size="11.11" text-anchor="start" fill="#000" textLength="51.70" lengthAdjust="spacingAndGlyphs">Dewpoint</text>
<line x1="47.00" y1="150.30" x2="70.00" y2="150.30" stroke="#ff0000" stroke-width="2.8"  stroke-linecap="square"/>
<text x="78.40" y="154.05" font-size="11.11" text-anchor="start" fill="#000" textLength="70.10" lengthAdjust="spacingAndGlyphs">Temperature</text>
<path d="M858.34 54.67L836.26 42.93M836.26 42.93L838.20 32.64M839.02 44.40L840.96 34.10M841.78 45.87L843.72 35.57M844.54 47.33L846.48 37.04M859.05 111.54L835.55 102.99M835.55 102.99L836.04 92.53M838.49 104.06L838.97 93.60M841.43 105.13L841.91 94.66M844.36 106.20L844.85 95.73M847.30 107.27L847.54 102.03M859.12 159.11L835.48 150.97M844.35 154.02L844.50 148.79M858.97 199.91L835.63 190.95M844.38 194.31L845.05 183.85M847.30 195.43L847.97 184.97M858.53 235.90L836.07 224.94M844.49 229.05L846.07 218.69M847.30 230.42L848.87 220.06M850.11 231.79L851.68 221.43M852.92 233.16L854.49 222.80M859.32 264.72L835.28 257.83M844.30 260.42L844.05 249.94M847.30 261.28L847.05 250.80M850.30 262.14L850.06 251.66M853.31 263.00L853.06 252.53M859.15 292.85L835.45 284.92M844.34 287.89L844.55 277.42M847.30 288.88L847.51 278.41M850.26 289.88L850.47 279.40M853.23 290.87L853.44 280.39M859.19 317.72L835.41 309.99M844.33 312.89L844.45 302.41M847.30 313.86L847.42 303.38M850.27 314.82L850.39 304.35M853.24 315.79L853.36 305.31M859.32 340.10L835.28 333.21M844.30 335.79L844.05 325.32M847.30 336.65L847.05 326.18M850.30 337.52L850.06 327.04M853.31 338.38L853.06 327.90M859.22 361.39L835.38 353.87M844.32 356.69L844.35 346.21M847.30 357.63L847.33 347.15M850.28 358.57L850.31 348.09M853.26 359.51L853.29 349.03M859.19 380.91L835.41 373.18M844.33 376.08L844.45 365.60M847.30 377.05L847.42 366.57M850.27 378.01L850.39 367.53M853.24 378.98L853.30 373.74M859.19 398.99L835.41 391.26M844.33 394.16L844.45 383.68M847.30 395.12L847.42 384.65M850.27 396.09L850.39 385.61M859.35 415.37L835.25 408.69M844.29 411.20L843.95 400.73M847.30 412.03L846.96 401.56M850.31 412.87L850.14 407.63M859.43 430.94L835.17 424.89M844.27 427.16L843.65 416.70M847.30 427.92L846.69 417.46M850.33 428.67L850.03 423.44M859.63 459.12L834.97 455.00M844.22 456.54L842.79 446.17M847.30 457.06L845.87 446.68M859.57 485.67L835.03 480.90M844.23 482.69L843.07 472.27M859.29 510.67L835.31 503.57M859.37 532.20L835.23 525.73M859.62 551.24L834.98 547.03M834.98 547.03L833.58 536.64M838.06 547.55L836.66 537.17M841.14 548.08L839.74 537.70M844.22 548.61L842.82 538.22M859.80 567.86L834.80 567.86M834.80 567.86L831.67 557.86M837.92 567.86L834.80 557.86M841.05 567.86L837.92 557.86M859.65 583.42L834.95 587.24M834.95 587.24L830.33 577.84M838.04 586.76L833.42 577.36M841.12 586.29L838.81 581.58M859.77 600.84L834.83 602.58M834.83 602.58L831.02 592.83M837.95 602.37L834.13 592.61M841.07 602.15L837.25 592.39M844.18 601.93L842.28 597.05M857.35 617.07L837.25 631.95M837.25 631.95L828.79 625.77M839.76 630.09L831.30 623.91M842.28 628.23L833.82 622.05M845.56 633.24L849.04 658.00M849.04 658.00L839.57 662.48" fill="none" stroke="#000" stroke-width="0.95" stroke-linejoin="miter"/>
<path d="M835.48 150.97L841.69 142.53L841.39 153.00ZM835.63 190.95L842.13 182.73L841.47 193.19ZM836.07 224.94L843.26 217.32L841.68 227.68ZM835.28 257.83L841.04 249.08L841.29 259.55ZM835.45 284.92L841.58 276.43L841.37 286.90ZM835.41 309.99L841.47 301.45L841.36 311.93ZM835.28 333.21L841.04 324.46L841.29 334.93ZM835.38 353.87L841.37 345.27L841.34 355.75ZM835.41 373.18L841.47 364.64L841.36 375.11ZM835.41 391.26L841.47 382.71L841.36 393.19ZM835.25 408.69L840.94 399.89L841.28 410.36ZM835.17 424.89L840.62 415.95L841.24 426.41ZM834.97 455.00L839.70 445.65L841.14 456.03ZM835.03 480.90L840.01 471.68L841.16 482.09ZM835.31 503.57L841.15 494.87L841.31 505.34ZM835.23 525.73L840.83 516.88L841.26 527.35Z" fill="#000" stroke="#000" stroke-width="0.95" stroke-linejoin="miter"/>
<clipPath id="ch"><rect x="876.60" y="49.30" width="220.00" height="188.10"/></clipPath>
<g clip-path="url(#ch)">
<ellipse cx="898.40" cy="140.70" rx="22.32" ry="19.20" fill="none" stroke="#adadad" stroke-width="0.85" stroke-dasharray="1.0 1.7"/>
<ellipse cx="898.40" cy="140.70" rx="44.64" ry="38.40" fill="none" stroke="#adadad" stroke-width="0.85" stroke-dasharray="1.0 1.7"/>
<ellipse cx="898.40" cy="140.70" rx="66.96" ry="57.60" fill="none" stroke="#adadad" stroke-width="0.85" stroke-dasharray="1.0 1.7"/>
<ellipse cx="898.40" cy="140.70" rx="89.28" ry="76.80" fill="none" stroke="#adadad" stroke-width="0.85" stroke-dasharray="1.0 1.7"/>
<ellipse cx="898.40" cy="140.70" rx="111.60" ry="96.00" fill="none" stroke="#adadad" stroke-width="0.85" stroke-dasharray="1.0 1.7"/>
<ellipse cx="898.40" cy="140.70" rx="133.92" ry="115.20" fill="none" stroke="#adadad" stroke-width="0.85" stroke-dasharray="1.0 1.7"/>
<ellipse cx="898.40" cy="140.70" rx="156.24" ry="134.40" fill="none" stroke="#adadad" stroke-width="0.85" stroke-dasharray="1.0 1.7"/>
<ellipse cx="898.40" cy="140.70" rx="178.56" ry="153.60" fill="none" stroke="#adadad" stroke-width="0.85" stroke-dasharray="1.0 1.7"/>
<ellipse cx="898.40" cy="140.70" rx="200.88" ry="172.80" fill="none" stroke="#adadad" stroke-width="0.85" stroke-dasharray="1.0 1.7"/>
<ellipse cx="898.40" cy="140.70" rx="223.20" ry="192.00" fill="none" stroke="#adadad" stroke-width="0.85" stroke-dasharray="1.0 1.7"/>
<ellipse cx="898.40" cy="140.70" rx="245.52" ry="211.20" fill="none" stroke="#adadad" stroke-width="0.85" stroke-dasharray="1.0 1.7"/>
<ellipse cx="898.40" cy="140.70" rx="267.84" ry="230.40" fill="none" stroke="#adadad" stroke-width="0.85" stroke-dasharray="1.0 1.7"/>
<ellipse cx="898.40" cy="140.70" rx="290.16" ry="249.60" fill="none" stroke="#adadad" stroke-width="0.85" stroke-dasharray="1.0 1.7"/>
<line x1="876.60" y1="141.50" x2="1096.60" y2="141.50" stroke="#333" stroke-width="1.0" />
<line x1="898.50" y1="49.30" x2="898.50" y2="237.40" stroke="#333" stroke-width="1.0" />
<text x="919.60" y="157.60" font-size="9.72" text-anchor="middle" fill="#858585" >10</text>
<text x="942.16" y="157.60" font-size="9.72" text-anchor="middle" fill="#858585" >20</text>
<text x="964.72" y="157.60" font-size="9.72" text-anchor="middle" fill="#858585" >30</text>
<text x="987.28" y="157.60" font-size="9.72" text-anchor="middle" fill="#858585" >40</text>
<text x="1009.84" y="157.60" font-size="9.72" text-anchor="middle" fill="#858585" >50</text>
<text x="1032.40" y="157.60" font-size="9.72" text-anchor="middle" fill="#858585" >60</text>
<text x="1054.96" y="157.60" font-size="9.72" text-anchor="middle" fill="#858585" >70</text>
<text x="1077.52" y="157.60" font-size="9.72" text-anchor="middle" fill="#858585" >80</text>
<polyline points="894.80,120.40 900.10,105.20 924.30,75.70 943.30,80.00 948.40,82.90 966.20,98.20 978.00,113.40" fill="none" stroke="#ff0000" stroke-width="2.1" stroke-linejoin="round"/>
<polyline points="981.40,124.80 982.40,130.00 981.50,132.20 978.40,134.30 973.80,136.00 969.90,135.60 960.80,133.30" fill="none" stroke="#ff0000" stroke-width="2.1" stroke-linejoin="round"/>
<polyline points="960.80,133.30 962.10,135.60 968.70,141.70 977.80,148.50 985.20,151.90" fill="none" stroke="#ff0000" stroke-width="2.1" stroke-linejoin="round"/>
<polyline points="991.20,154.80 997.10,158.00 999.40,160.50 1001.70,165.00 1004.50,167.80 1007.40,168.75 1014.20,166.70 1022.00,164.20 1031.00,161.20 1039.20,159.70 1044.00,159.70 1049.50,160.40" fill="none" stroke="#009900" stroke-width="2.1" stroke-linejoin="round"/>
<polyline points="1056.50,168.50 1059.70,174.50 1064.50,180.50 1070.50,185.90 1077.70,190.20 1082.60,192.00 1086.20,192.60" fill="none" stroke="#bf22bf" stroke-width="2.1" stroke-linejoin="round"/>
<polyline points="1087.40,195.60 1079.90,211.20" fill="none" stroke="#0000ff" stroke-width="2.1" stroke-linejoin="round"/>
<text x="980.30" y="123.00" font-size="11.11" text-anchor="middle" fill="#000" stroke="#fff" stroke-width="1.6" paint-order="stroke" stroke-linejoin="round">1</text>
<text x="957.60" y="136.30" font-size="11.11" text-anchor="middle" fill="#000" stroke="#fff" stroke-width="1.6" paint-order="stroke" stroke-linejoin="round">2</text>
<text x="988.40" y="156.80" font-size="11.11" text-anchor="middle" fill="#000" stroke="#fff" stroke-width="1.6" paint-order="stroke" stroke-linejoin="round">3</text>
<text x="1053.70" y="167.20" font-size="11.11" text-anchor="middle" fill="#000" stroke="#fff" stroke-width="1.6" paint-order="stroke" stroke-linejoin="round">6</text>
<text x="1090.40" y="194.20" font-size="11.11" text-anchor="middle" fill="#000" stroke="#fff" stroke-width="1.6" paint-order="stroke" stroke-linejoin="round">9</text>
<ellipse cx="987.80" cy="106.85" rx="8.4" ry="7.2" fill="none" stroke="#000" stroke-width="1.4"/>
<text transform="translate(987.80,110.15) scale(0.74,1)" font-size="9" text-anchor="middle" fill="#000">LM</text>
<ellipse cx="968.40" cy="160.80" rx="8.4" ry="7.2" fill="none" stroke="#000" stroke-width="1.4"/>
<text transform="translate(968.40,164.10) scale(0.74,1)" font-size="9" text-anchor="middle" fill="#000">RM</text>
</g>
<rect x="876.60" y="49.30" width="220.00" height="188.10" fill="none" stroke="#000" stroke-width="1.11"/>
<text x="985.50" y="250.60" font-size="11.11" text-anchor="middle" fill="#000" >Hodograph (wind in kt, height in km)</text>
<text x="986.90" y="36.10" font-size="15.1" text-anchor="middle" fill="#808080" font-weight="bold">TROPICALTIDBITS.COM</text>
<text class="mono" x="875.90" y="321.50" font-size="13.89" fill="#000" xml:space="preserve" style="white-space:pre">SBCAPE:           0 J/kg</text>
<text class="mono" x="875.90" y="339.00" font-size="13.89" fill="#000" xml:space="preserve" style="white-space:pre">MLCAPE:           0 J/kg</text>
<text class="mono" x="875.90" y="356.50" font-size="13.89" fill="#000" xml:space="preserve" style="white-space:pre">MUCAPE:           0 J/kg</text>
<text class="mono" x="875.90" y="374.00" font-size="13.89" fill="#000" xml:space="preserve" style="white-space:pre">SBCIN:            0 J/kg</text>
<text class="mono" x="875.90" y="391.50" font-size="13.89" fill="#000" xml:space="preserve" style="white-space:pre">MLCIN:            0 J/kg</text>
<text class="mono" x="875.90" y="409.00" font-size="13.89" fill="#000" xml:space="preserve" style="white-space:pre">DCAPE:            0 J/kg</text>
<text class="mono" x="875.90" y="426.50" font-size="13.89" fill="#a52a2a" xml:space="preserve" style="white-space:pre">SHR 200-850mb:   60 kt</text>
<text class="mono" x="875.90" y="444.00" font-size="13.89" fill="#000" xml:space="preserve" style="white-space:pre">RH 300-850mb:    54 %</text>
<text class="mono" x="875.90" y="461.50" font-size="13.89" fill="#000" xml:space="preserve" style="white-space:pre">PWAT:          0.47 in</text>
<text class="mono" x="877.10" y="285.80" font-size="13.89" fill="#9a1c9a" xml:space="preserve" style="white-space:pre">SRH 0-1km:      518 </text>
<text x="1044.34" y="285.80" font-size="13.89" fill="#9a1c9a" font-style="italic">m<tspan dy="-5.6" font-size="9.72" font-style="normal">2</tspan><tspan dy="5.6">s</tspan><tspan dy="-5.6" font-size="9.72" font-style="normal">−2</tspan></text>
<text class="mono" x="877.10" y="302.70" font-size="13.89" fill="#9a1c9a" xml:space="preserve" style="white-space:pre">SRH 0-3km:      532 </text>
<text x="1044.34" y="302.70" font-size="13.89" fill="#9a1c9a" font-style="italic">m<tspan dy="-5.6" font-size="9.72" font-style="normal">2</tspan><tspan dy="5.6">s</tspan><tspan dy="-5.6" font-size="9.72" font-style="normal">−2</tspan></text>
<clipPath id="ce"><rect x="892.20" y="500.40" width="204.50" height="164.70"/></clipPath>
<g clip-path="url(#ce)">
<polyline points="1081.10,500.00 1078.90,508.60 1076.60,514.30 1073.20,520.00 1066.40,529.10 1060.70,538.20 1055.00,548.40 1048.20,559.80 1042.50,570.00 1038.60,579.10 1036.10,587.00 1035.00,588.40 1030.00,596.10 1026.10,604.10 1033.40,615.50 1030.00,620.50 1018.60,625.70 1005.00,631.40 993.20,637.00 970.90,642.30 951.60,647.70 940.20,649.10" fill="none" stroke="#2e97b7" stroke-width="2.6" stroke-linejoin="round"/>
</g>
<rect x="892.20" y="500.40" width="204.50" height="164.70" fill="none" stroke="#000" stroke-width="1.11"/>
<line x1="892.20" y1="521.80" x2="897.10" y2="521.80" stroke="#000" stroke-width="1.11" />
<text x="901.80" y="526.00" font-size="11.11" text-anchor="start" fill="#000" >400</text>
<line x1="892.20" y1="566.00" x2="897.10" y2="566.00" stroke="#000" stroke-width="1.11" />
<text x="901.80" y="570.20" font-size="11.11" text-anchor="start" fill="#000" >600</text>
<line x1="892.20" y1="610.20" x2="897.10" y2="610.20" stroke="#000" stroke-width="1.11" />
<text x="901.80" y="614.40" font-size="11.11" text-anchor="start" fill="#000" >800</text>
<line x1="892.20" y1="654.40" x2="897.10" y2="654.40" stroke="#000" stroke-width="1.11" />
<line x1="927.40" y1="665.10" x2="927.40" y2="660.20" stroke="#000" stroke-width="1.11" />
<text x="927.40" y="656.50" font-size="11.11" text-anchor="middle" fill="#000" >280</text>
<line x1="963.83" y1="665.10" x2="963.83" y2="660.20" stroke="#000" stroke-width="1.11" />
<text x="963.83" y="656.50" font-size="11.11" text-anchor="middle" fill="#000" >290</text>
<line x1="1000.26" y1="665.10" x2="1000.26" y2="660.20" stroke="#000" stroke-width="1.11" />
<text x="1000.26" y="656.50" font-size="11.11" text-anchor="middle" fill="#000" >300</text>
<line x1="1036.69" y1="665.10" x2="1036.69" y2="660.20" stroke="#000" stroke-width="1.11" />
<text x="1036.69" y="656.50" font-size="11.11" text-anchor="middle" fill="#000" >310</text>
<line x1="1073.12" y1="665.10" x2="1073.12" y2="660.20" stroke="#000" stroke-width="1.11" />
<text x="1073.12" y="656.50" font-size="11.11" text-anchor="middle" fill="#000" >320</text>
<text x="993.50" y="678.30" font-size="11.11" text-anchor="middle" fill="#000" >Equivalent Pot. Temperature (K)</text>
<text transform="translate(883.9,582.75) rotate(-90)" font-size="11.11" text-anchor="middle">Pressure (hPa)</text>
</svg>
<div id="frame"></div><div id="frame2"></div>
</body></html>
